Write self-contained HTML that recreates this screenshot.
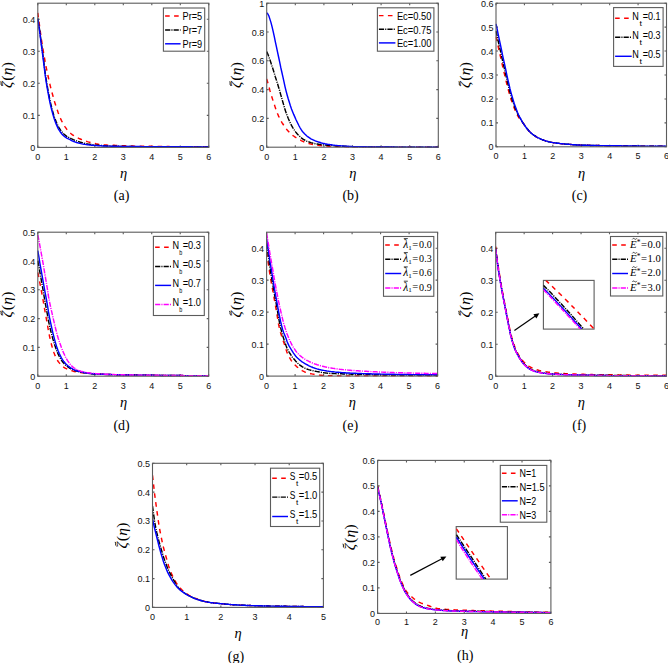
<!DOCTYPE html>
<html><head><meta charset="utf-8"><title>figure</title><style>
html,body{margin:0;padding:0;background:#fff;}
svg{display:block;}
text{font-family:"Liberation Sans",sans-serif;}
.tk{font-size:9px;fill:#111;}
.lg{font-size:10.4px;fill:#000;}
.lgs{font-family:"Liberation Serif",serif;font-size:10px;fill:#000;}
.eta{font-family:"Liberation Serif",serif;font-style:italic;font-size:14.5px;fill:#000;}
.cap{font-family:"Liberation Serif",serif;font-size:14px;fill:#000;}
.yl{font-family:"Liberation Serif",serif;fill:#000;}
</style></head>
<body><svg width="668" height="663" viewBox="0 0 668 663">
<rect width="668" height="663" fill="#fff"/>
<g>
<clipPath id="c0"><rect x="37.3" y="2.2" width="172" height="145.7"/></clipPath>
<path d="M37.8 147.4 v-2.0 M37.8 3.2 v2.0 M66.3 147.4 v-2.0 M66.3 3.2 v2.0 M94.8 147.4 v-2.0 M94.8 3.2 v2.0 M123.3 147.4 v-2.0 M123.3 3.2 v2.0 M151.8 147.4 v-2.0 M151.8 3.2 v2.0 M180.3 147.4 v-2.0 M180.3 3.2 v2.0 M208.8 147.4 v-2.0 M208.8 3.2 v2.0 M37.8 147.4 h2.0 M208.8 147.4 h-2.0 M37.8 115.36 h2.0 M208.8 115.36 h-2.0 M37.8 83.31 h2.0 M208.8 83.31 h-2.0 M37.8 51.27 h2.0 M208.8 51.27 h-2.0 M37.8 19.22 h2.0 M208.8 19.22 h-2.0" stroke="#5c5c5c" stroke-width="1.1" fill="none"/>
<text x="37.8" y="159.8" class="tk" text-anchor="middle">0</text>
<text x="66.3" y="159.8" class="tk" text-anchor="middle">1</text>
<text x="94.8" y="159.8" class="tk" text-anchor="middle">2</text>
<text x="123.3" y="159.8" class="tk" text-anchor="middle">3</text>
<text x="151.8" y="159.8" class="tk" text-anchor="middle">4</text>
<text x="180.3" y="159.8" class="tk" text-anchor="middle">5</text>
<text x="208.8" y="159.8" class="tk" text-anchor="middle">6</text>
<text x="35.3" y="150.9" class="tk" text-anchor="end">0</text>
<text x="35.3" y="118.86" class="tk" text-anchor="end">0.1</text>
<text x="35.3" y="86.81" class="tk" text-anchor="end">0.2</text>
<text x="35.3" y="54.77" class="tk" text-anchor="end">0.3</text>
<text x="35.3" y="22.72" class="tk" text-anchor="end">0.4</text>
<path d="M37.8 12.8 38.9 21.2 40 29.2 41 36.7 42.1 43.8 43.2 50.5 44.3 56.8 45.3 62.7 46.4 68.3 47.5 73.6 48.6 78.5 49.6 83.2 50.7 87.6 51.8 91.8 52.9 95.8 53.9 99.6 55 103.2 56.1 106.6 57.2 109.8 58.2 112.8 59.3 115.7 60.4 118.2 61.5 120.6 62.5 122.6 63.6 124.6 64.7 126.3 65.8 127.9 66.8 129.4 67.9 130.7 69 131.8 70.1 132.8 71.1 133.7 72.2 134.6 73.3 135.3 74.4 136 75.4 136.7 76.5 137.3 77.6 137.8 78.7 138.3 79.7 138.8 80.8 139.2 81.9 139.7 83 140.1 84 140.5 85.1 140.9 86.2 141.2 87.3 141.6 88.3 141.9 89.4 142.2 90.5 142.5 91.6 142.8 92.6 143 93.7 143.3 94.8 143.5 95.9 143.8 97 144 98 144.2 99.1 144.4 100.2 144.5 101.3 144.6 102.3 144.7 103.4 144.8 104.5 144.9 105.6 144.9 106.6 145 107.7 145.1 108.8 145.1 109.9 145.2 110.9 145.2 112 145.3 113.1 145.3 114.2 145.3 115.2 145.4 116.3 145.4 117.4 145.5 118.5 145.5 119.5 145.6 120.6 145.6 121.7 145.6 122.8 145.7 123.8 145.7 124.9 145.8 126 145.8 127.1 145.8 128.1 145.9 129.2 145.9 130.3 145.9 131.4 146 132.4 146 133.5 146 134.6 146.1 135.7 146.1 136.7 146.1 137.8 146.1 138.9 146.1 140 146.2 141 146.2 142.1 146.2 143.2 146.2 144.3 146.2 145.3 146.2 146.4 146.3 147.5 146.3 148.6 146.3 149.6 146.3 150.7 146.3 151.8 146.3 152.9 146.4 154 146.4 155 146.4 156.1 146.4 157.2 146.4 158.3 146.4 159.3 146.4 160.4 146.4 161.5 146.5 162.6 146.5 163.6 146.5 164.7 146.5 165.8 146.5 166.9 146.5 167.9 146.5 169 146.5 170.1 146.6 171.2 146.6 172.2 146.6 173.3 146.6 174.4 146.6 175.5 146.6 176.5 146.6 177.6 146.6 178.7 146.6 179.8 146.6 180.8 146.7 181.9 146.7 183 146.7 184.1 146.7 185.1 146.7 186.2 146.7 187.3 146.7 188.4 146.7 189.4 146.7 190.5 146.7 191.6 146.7 192.7 146.7 193.7 146.7 194.8 146.7 195.9 146.7 197 146.7 198 146.7 199.1 146.7 200.2 146.7 201.3 146.8 202.3 146.8 203.4 146.8 204.5 146.8 205.6 146.8 206.6 146.8 207.7 146.8 208.8 146.8" fill="none" stroke="#ff0000" stroke-width="1.45" stroke-dasharray="4.6 4.4" clip-path="url(#c0)"/>
<path d="M37.8 18.3 38.9 25.3 40 32.9 41 40.8 42.1 48.8 43.2 57.3 44.3 65.8 45.3 73.8 46.4 80.9 47.5 87.3 48.6 93.3 49.6 98.7 50.7 103.6 51.8 108.1 52.9 112.1 53.9 115.6 55 118.8 56.1 121.6 57.2 124.1 58.2 126.3 59.3 128.2 60.4 129.9 61.5 131.3 62.5 132.6 63.6 133.8 64.7 134.7 65.8 135.6 66.8 136.3 67.9 137 69 137.6 70.1 138.1 71.1 138.7 72.2 139.2 73.3 139.7 74.4 140.1 75.4 140.5 76.5 140.9 77.6 141.3 78.7 141.6 79.7 142 80.8 142.3 81.9 142.6 83 142.9 84 143.2 85.1 143.4 86.2 143.7 87.3 143.9 88.3 144.1 89.4 144.2 90.5 144.4 91.6 144.6 92.6 144.7 93.7 144.8 94.8 145 95.9 145.1 97 145.2 98 145.3 99.1 145.4 100.2 145.5 101.3 145.5 102.3 145.6 103.4 145.7 104.5 145.7 105.6 145.8 106.6 145.9 107.7 145.9 108.8 146 109.9 146 110.9 146.1 112 146.1 113.1 146.2 114.2 146.2 115.2 146.2 116.3 146.3 117.4 146.3 118.5 146.3 119.5 146.4 120.6 146.4 121.7 146.4 122.8 146.4 123.8 146.4 124.9 146.5 126 146.5 127.1 146.5 128.1 146.5 129.2 146.5 130.3 146.5 131.4 146.5 132.4 146.5 133.5 146.6 134.6 146.6 135.7 146.6 136.7 146.6 137.8 146.6 138.9 146.6 140 146.6 141 146.6 142.1 146.6 143.2 146.6 144.3 146.7 145.3 146.7 146.4 146.7 147.5 146.7 148.6 146.7 149.6 146.7 150.7 146.7 151.8 146.7 152.9 146.7 154 146.7 155 146.7 156.1 146.7 157.2 146.8 158.3 146.8 159.3 146.8 160.4 146.8 161.5 146.8 162.6 146.8 163.6 146.8 164.7 146.8 165.8 146.8 166.9 146.8 167.9 146.8 169 146.8 170.1 146.8 171.2 146.8 172.2 146.8 173.3 146.8 174.4 146.8 175.5 146.9 176.5 146.9 177.6 146.9 178.7 146.9 179.8 146.9 180.8 146.9 181.9 146.9 183 146.9 184.1 146.9 185.1 146.9 186.2 146.9 187.3 146.9 188.4 146.9 189.4 146.9 190.5 146.9 191.6 146.9 192.7 146.9 193.7 146.9 194.8 146.9 195.9 146.9 197 146.9 198 146.9 199.1 146.9 200.2 146.9 201.3 146.9 202.3 146.9 203.4 146.9 204.5 146.9 205.6 146.9 206.6 146.9 207.7 146.9 208.8 146.9" fill="none" stroke="#000000" stroke-width="1.45" stroke-dasharray="5.2 1.1 1.1 1.1" clip-path="url(#c0)"/>
<path d="M37.8 19.2 38.9 26.4 40 34.2 41 42.3 42.1 50.5 43.2 59.1 44.3 67.8 45.3 75.9 46.4 83.1 47.5 89.6 48.6 95.5 49.6 100.9 50.7 105.8 51.8 110.3 52.9 114.3 53.9 117.9 55 121 56.1 123.9 57.2 126.4 58.2 128.6 59.3 130.4 60.4 132 61.5 133.5 62.5 134.7 63.6 135.7 64.7 136.6 65.8 137.4 66.8 138.1 67.9 138.7 69 139.2 70.1 139.7 71.1 140.3 72.2 140.8 73.3 141.3 74.4 141.7 75.4 142.1 76.5 142.5 77.6 142.8 78.7 143.1 79.7 143.4 80.8 143.6 81.9 143.9 83 144.1 84 144.3 85.1 144.4 86.2 144.6 87.3 144.7 88.3 144.9 89.4 145 90.5 145.1 91.6 145.2 92.6 145.3 93.7 145.4 94.8 145.5 95.9 145.5 97 145.6 98 145.7 99.1 145.7 100.2 145.8 101.3 145.8 102.3 145.9 103.4 145.9 104.5 146 105.6 146 106.6 146 107.7 146.1 108.8 146.1 109.9 146.1 110.9 146.2 112 146.2 113.1 146.2 114.2 146.2 115.2 146.3 116.3 146.3 117.4 146.3 118.5 146.3 119.5 146.3 120.6 146.4 121.7 146.4 122.8 146.4 123.8 146.4 124.9 146.4 126 146.4 127.1 146.4 128.1 146.4 129.2 146.5 130.3 146.5 131.4 146.5 132.4 146.5 133.5 146.5 134.6 146.5 135.7 146.5 136.7 146.5 137.8 146.5 138.9 146.5 140 146.5 141 146.5 142.1 146.6 143.2 146.6 144.3 146.6 145.3 146.6 146.4 146.6 147.5 146.6 148.6 146.6 149.6 146.6 150.7 146.6 151.8 146.6 152.9 146.6 154 146.6 155 146.6 156.1 146.6 157.2 146.7 158.3 146.7 159.3 146.7 160.4 146.7 161.5 146.7 162.6 146.7 163.6 146.7 164.7 146.7 165.8 146.7 166.9 146.7 167.9 146.7 169 146.7 170.1 146.7 171.2 146.7 172.2 146.7 173.3 146.8 174.4 146.8 175.5 146.8 176.5 146.8 177.6 146.8 178.7 146.8 179.8 146.8 180.8 146.8 181.9 146.8 183 146.8 184.1 146.8 185.1 146.8 186.2 146.8 187.3 146.8 188.4 146.8 189.4 146.8 190.5 146.8 191.6 146.9 192.7 146.9 193.7 146.9 194.8 146.9 195.9 146.9 197 146.9 198 146.9 199.1 146.9 200.2 146.9 201.3 146.9 202.3 146.9 203.4 146.9 204.5 146.9 205.6 146.9 206.6 146.9 207.7 146.9 208.8 146.9" fill="none" stroke="#0000ff" stroke-width="1.45" clip-path="url(#c0)"/>
<rect x="37.8" y="3.2" width="171" height="144.2" fill="none" stroke="#5c5c5c" stroke-width="1.1"/>
<rect x="163.4" y="8" width="41.3" height="43.2" fill="#fff" stroke="#5c5c5c" stroke-width="1.1"/>
<path d="M165.1 15.9 H180.6" stroke="#ff0000" stroke-width="1.45" stroke-dasharray="4.6 4.4"/>
<text x="182.6" y="19.7" class="lg" textLength="19.6" lengthAdjust="spacingAndGlyphs">Pr=5</text>
<path d="M165.1 29.9 H180.6" stroke="#000000" stroke-width="1.45" stroke-dasharray="5.2 1.1 1.1 1.1"/>
<text x="182.6" y="34" class="lg" textLength="19.6" lengthAdjust="spacingAndGlyphs">Pr=7</text>
<path d="M165.1 43.8 H180.6" stroke="#0000ff" stroke-width="1.45"/>
<text x="182.6" y="48" class="lg" textLength="19.6" lengthAdjust="spacingAndGlyphs">Pr=9</text>
<g transform="translate(12.2 75.1) rotate(-90)"><text x="0" y="0" class="yl" text-anchor="middle" style="font-size:15.5px"><tspan font-style="italic">&#950;</tspan><tspan dx="1">(</tspan><tspan font-style="italic" dx="0.3">&#951;</tspan><tspan dx="0.3">)</tspan></text><path d="M-10.6 -10.2 C-9.6 -12.2 -8.2 -10.2 -6.4 -11.6" fill="none" stroke="#000" stroke-width="0.9"/></g>
<text x="123.6" y="177.7" class="eta" text-anchor="middle">&#951;</text>
<text x="121.6" y="200" class="cap" text-anchor="middle">(a)</text>
</g>
<g>
<clipPath id="c1"><rect x="266.2" y="2.2" width="172.6" height="145.5"/></clipPath>
<path d="M266.7 147.2 v-2.0 M266.7 3.2 v2.0 M295.3 147.2 v-2.0 M295.3 3.2 v2.0 M323.9 147.2 v-2.0 M323.9 3.2 v2.0 M352.5 147.2 v-2.0 M352.5 3.2 v2.0 M381.1 147.2 v-2.0 M381.1 3.2 v2.0 M409.7 147.2 v-2.0 M409.7 3.2 v2.0 M438.3 147.2 v-2.0 M438.3 3.2 v2.0 M266.7 147.2 h2.0 M438.3 147.2 h-2.0 M266.7 118.4 h2.0 M438.3 118.4 h-2.0 M266.7 89.6 h2.0 M438.3 89.6 h-2.0 M266.7 60.8 h2.0 M438.3 60.8 h-2.0 M266.7 32 h2.0 M438.3 32 h-2.0 M266.7 3.2 h2.0 M438.3 3.2 h-2.0" stroke="#5c5c5c" stroke-width="1.1" fill="none"/>
<text x="266.7" y="159.6" class="tk" text-anchor="middle">0</text>
<text x="295.3" y="159.6" class="tk" text-anchor="middle">1</text>
<text x="323.9" y="159.6" class="tk" text-anchor="middle">2</text>
<text x="352.5" y="159.6" class="tk" text-anchor="middle">3</text>
<text x="381.1" y="159.6" class="tk" text-anchor="middle">4</text>
<text x="409.7" y="159.6" class="tk" text-anchor="middle">5</text>
<text x="438.3" y="159.6" class="tk" text-anchor="middle">6</text>
<text x="264.2" y="150.7" class="tk" text-anchor="end">0</text>
<text x="264.2" y="121.9" class="tk" text-anchor="end">0.2</text>
<text x="264.2" y="93.1" class="tk" text-anchor="end">0.4</text>
<text x="264.2" y="64.3" class="tk" text-anchor="end">0.6</text>
<text x="264.2" y="35.5" class="tk" text-anchor="end">0.8</text>
<text x="264.2" y="6.7" class="tk" text-anchor="end">1</text>
<path d="M266.7 78.9 267.8 82.8 268.9 86.6 269.9 90.4 271 94.2 272.1 97.8 273.2 101.2 274.3 104.4 275.3 107.6 276.4 110.7 277.5 113.6 278.6 116.1 279.7 118.3 280.7 120.4 281.8 122.3 282.9 124 284 125.7 285 127.2 286.1 128.6 287.2 130 288.3 131.2 289.4 132.4 290.4 133.4 291.5 134.4 292.6 135.3 293.7 136 294.8 136.8 295.8 137.5 296.9 138.1 298 138.8 299.1 139.4 300.2 140 301.2 140.6 302.3 141.1 303.4 141.6 304.5 142.1 305.6 142.5 306.6 142.8 307.7 143.2 308.8 143.5 309.9 143.8 310.9 144 312 144.3 313.1 144.5 314.2 144.7 315.3 144.9 316.3 145 317.4 145.2 318.5 145.3 319.6 145.5 320.7 145.6 321.7 145.7 322.8 145.8 323.9 145.9 325 146 326.1 146 327.1 146.1 328.2 146.2 329.3 146.2 330.4 146.3 331.5 146.4 332.5 146.4 333.6 146.5 334.7 146.5 335.8 146.5 336.9 146.6 337.9 146.6 339 146.6 340.1 146.7 341.2 146.7 342.2 146.7 343.3 146.8 344.4 146.8 345.5 146.8 346.6 146.8 347.6 146.9 348.7 146.9 349.8 146.9 350.9 146.9 352 146.9 353 146.9 354.1 147 355.2 147 356.3 147 357.4 147 358.4 147 359.5 147 360.6 147 361.7 147 362.8 147 363.8 147 364.9 147 366 147 367.1 147 368.1 147 369.2 147 370.3 147 371.4 147 372.5 147 373.5 147.1 374.6 147.1 375.7 147.1 376.8 147.1 377.9 147.1 378.9 147.1 380 147.1 381.1 147.1 382.2 147.1 383.3 147.1 384.3 147.1 385.4 147.1 386.5 147.1 387.6 147.1 388.7 147.1 389.7 147.1 390.8 147.1 391.9 147.1 393 147.1 394.1 147.1 395.1 147.1 396.2 147.1 397.3 147.1 398.4 147.1 399.4 147.1 400.5 147.1 401.6 147.1 402.7 147.1 403.8 147.1 404.8 147.1 405.9 147.1 407 147.1 408.1 147.1 409.2 147.1 410.2 147.2 411.3 147.2 412.4 147.2 413.5 147.2 414.6 147.2 415.6 147.2 416.7 147.2 417.8 147.2 418.9 147.2 420 147.2 421 147.2 422.1 147.2 423.2 147.2 424.3 147.2 425.3 147.2 426.4 147.2 427.5 147.2 428.6 147.2 429.7 147.2 430.7 147.2 431.8 147.2 432.9 147.2 434 147.2 435.1 147.2 436.1 147.2 437.2 147.2 438.3 147.2" fill="none" stroke="#ff0000" stroke-width="1.45" stroke-dasharray="4.6 4.4" clip-path="url(#c1)"/>
<path d="M266.7 51.6 267.8 54.1 268.9 56.8 269.9 59.8 271 63.1 272.1 66.4 273.2 69.8 274.3 73.3 275.3 76.7 276.4 80.1 277.5 83.6 278.6 87.2 279.7 90.9 280.7 94.6 281.8 98.3 282.9 102.2 284 106 285 109.6 286.1 112.8 287.2 115.8 288.3 118.5 289.4 121 290.4 123.3 291.5 125.4 292.6 127.3 293.7 129.1 294.8 130.7 295.8 132.1 296.9 133.5 298 134.7 299.1 135.8 300.2 136.8 301.2 137.8 302.3 138.6 303.4 139.4 304.5 140 305.6 140.6 306.6 141.1 307.7 141.5 308.8 141.9 309.9 142.3 310.9 142.6 312 142.9 313.1 143.2 314.2 143.4 315.3 143.7 316.3 143.9 317.4 144 318.5 144.2 319.6 144.4 320.7 144.5 321.7 144.7 322.8 144.8 323.9 144.9 325 145 326.1 145.1 327.1 145.2 328.2 145.3 329.3 145.4 330.4 145.5 331.5 145.5 332.5 145.6 333.6 145.7 334.7 145.8 335.8 145.8 336.9 145.9 337.9 145.9 339 146 340.1 146.1 341.2 146.1 342.2 146.2 343.3 146.2 344.4 146.3 345.5 146.3 346.6 146.4 347.6 146.4 348.7 146.5 349.8 146.5 350.9 146.6 352 146.6 353 146.7 354.1 146.7 355.2 146.7 356.3 146.7 357.4 146.8 358.4 146.8 359.5 146.8 360.6 146.8 361.7 146.8 362.8 146.8 363.8 146.8 364.9 146.8 366 146.9 367.1 146.9 368.1 146.9 369.2 146.9 370.3 146.9 371.4 146.9 372.5 146.9 373.5 146.9 374.6 146.9 375.7 146.9 376.8 146.9 377.9 147 378.9 147 380 147 381.1 147 382.2 147 383.3 147 384.3 147 385.4 147 386.5 147 387.6 147 388.7 147 389.7 147 390.8 147 391.9 147 393 147 394.1 147.1 395.1 147.1 396.2 147.1 397.3 147.1 398.4 147.1 399.4 147.1 400.5 147.1 401.6 147.1 402.7 147.1 403.8 147.1 404.8 147.1 405.9 147.1 407 147.1 408.1 147.1 409.2 147.1 410.2 147.1 411.3 147.1 412.4 147.1 413.5 147.1 414.6 147.1 415.6 147.1 416.7 147.1 417.8 147.1 418.9 147.1 420 147.1 421 147.1 422.1 147.1 423.2 147.1 424.3 147.1 425.3 147.1 426.4 147.1 427.5 147.2 428.6 147.2 429.7 147.2 430.7 147.2 431.8 147.2 432.9 147.2 434 147.2 435.1 147.2 436.1 147.2 437.2 147.2 438.3 147.2" fill="none" stroke="#000000" stroke-width="1.45" stroke-dasharray="5.2 1.1 1.1 1.1" clip-path="url(#c1)"/>
<path d="M266.7 12.8 267.8 13.9 268.9 16 269.9 19.1 271 22.6 272.1 26.9 273.2 31.7 274.3 36.6 275.3 41.6 276.4 46.7 277.5 51.8 278.6 57 279.7 62.1 280.7 67.2 281.8 72 282.9 76.9 284 81.8 285 86.6 286.1 91.1 287.2 95.2 288.3 99 289.4 102.5 290.4 105.8 291.5 108.9 292.6 111.7 293.7 114.4 294.8 116.9 295.8 119.2 296.9 121.5 298 123.8 299.1 126 300.2 128 301.2 129.7 302.3 131.2 303.4 132.6 304.5 133.8 305.6 134.8 306.6 135.8 307.7 136.7 308.8 137.4 309.9 138.1 310.9 138.8 312 139.3 313.1 139.8 314.2 140.3 315.3 140.8 316.3 141.2 317.4 141.6 318.5 142 319.6 142.3 320.7 142.7 321.7 143 322.8 143.3 323.9 143.5 325 143.8 326.1 144 327.1 144.2 328.2 144.4 329.3 144.5 330.4 144.7 331.5 144.8 332.5 145 333.6 145.1 334.7 145.3 335.8 145.4 336.9 145.5 337.9 145.6 339 145.7 340.1 145.8 341.2 145.9 342.2 146 343.3 146 344.4 146.1 345.5 146.2 346.6 146.3 347.6 146.3 348.7 146.4 349.8 146.4 350.9 146.5 352 146.5 353 146.6 354.1 146.6 355.2 146.6 356.3 146.7 357.4 146.7 358.4 146.7 359.5 146.7 360.6 146.7 361.7 146.8 362.8 146.8 363.8 146.8 364.9 146.8 366 146.8 367.1 146.9 368.1 146.9 369.2 146.9 370.3 146.9 371.4 146.9 372.5 146.9 373.5 146.9 374.6 146.9 375.7 146.9 376.8 147 377.9 147 378.9 147 380 147 381.1 147 382.2 147 383.3 147 384.3 147 385.4 147 386.5 147 387.6 147 388.7 147 389.7 147 390.8 147 391.9 147 393 147 394.1 147 395.1 147.1 396.2 147.1 397.3 147.1 398.4 147.1 399.4 147.1 400.5 147.1 401.6 147.1 402.7 147.1 403.8 147.1 404.8 147.1 405.9 147.1 407 147.1 408.1 147.1 409.2 147.1 410.2 147.1 411.3 147.1 412.4 147.1 413.5 147.1 414.6 147.1 415.6 147.1 416.7 147.1 417.8 147.1 418.9 147.1 420 147.1 421 147.1 422.1 147.1 423.2 147.1 424.3 147.1 425.3 147.1 426.4 147.1 427.5 147.1 428.6 147.2 429.7 147.2 430.7 147.2 431.8 147.2 432.9 147.2 434 147.2 435.1 147.2 436.1 147.2 437.2 147.2 438.3 147.2" fill="none" stroke="#0000ff" stroke-width="1.45" clip-path="url(#c1)"/>
<rect x="266.7" y="3.2" width="171.6" height="144" fill="none" stroke="#5c5c5c" stroke-width="1.1"/>
<rect x="377.4" y="7.8" width="56.5" height="43.4" fill="#fff" stroke="#5c5c5c" stroke-width="1.1"/>
<path d="M378.9 15.6 H395.4" stroke="#ff0000" stroke-width="1.45" stroke-dasharray="4.6 4.4"/>
<text x="396.9" y="20" class="lg" textLength="34.5" lengthAdjust="spacingAndGlyphs">Ec=0.50</text>
<path d="M378.9 29.3 H395.4" stroke="#000000" stroke-width="1.45" stroke-dasharray="5.2 1.1 1.1 1.1"/>
<text x="396.9" y="33.6" class="lg" textLength="34.5" lengthAdjust="spacingAndGlyphs">Ec=0.75</text>
<path d="M378.9 42.9 H395.4" stroke="#0000ff" stroke-width="1.45"/>
<text x="396.9" y="47.3" class="lg" textLength="34.5" lengthAdjust="spacingAndGlyphs">Ec=1.00</text>
<g transform="translate(241.2 75.1) rotate(-90)"><text x="0" y="0" class="yl" text-anchor="middle" style="font-size:15.5px"><tspan font-style="italic">&#950;</tspan><tspan dx="1">(</tspan><tspan font-style="italic" dx="0.3">&#951;</tspan><tspan dx="0.3">)</tspan></text><path d="M-10.6 -10.2 C-9.6 -12.2 -8.2 -10.2 -6.4 -11.6" fill="none" stroke="#000" stroke-width="0.9"/></g>
<text x="352.8" y="177.7" class="eta" text-anchor="middle">&#951;</text>
<text x="350.6" y="200" class="cap" text-anchor="middle">(b)</text>
</g>
<g>
<clipPath id="c2"><rect x="495.5" y="2.2" width="171.5" height="145.1"/></clipPath>
<path d="M496 146.8 v-2.0 M496 3.2 v2.0 M524.42 146.8 v-2.0 M524.42 3.2 v2.0 M552.83 146.8 v-2.0 M552.83 3.2 v2.0 M581.25 146.8 v-2.0 M581.25 3.2 v2.0 M609.67 146.8 v-2.0 M609.67 3.2 v2.0 M638.08 146.8 v-2.0 M638.08 3.2 v2.0 M666.5 146.8 v-2.0 M666.5 3.2 v2.0 M496 146.8 h2.0 M666.5 146.8 h-2.0 M496 122.87 h2.0 M666.5 122.87 h-2.0 M496 98.93 h2.0 M666.5 98.93 h-2.0 M496 75 h2.0 M666.5 75 h-2.0 M496 51.07 h2.0 M666.5 51.07 h-2.0 M496 27.13 h2.0 M666.5 27.13 h-2.0 M496 3.2 h2.0 M666.5 3.2 h-2.0" stroke="#5c5c5c" stroke-width="1.1" fill="none"/>
<text x="496" y="159.2" class="tk" text-anchor="middle">0</text>
<text x="524.42" y="159.2" class="tk" text-anchor="middle">1</text>
<text x="552.83" y="159.2" class="tk" text-anchor="middle">2</text>
<text x="581.25" y="159.2" class="tk" text-anchor="middle">3</text>
<text x="609.67" y="159.2" class="tk" text-anchor="middle">4</text>
<text x="638.08" y="159.2" class="tk" text-anchor="middle">5</text>
<text x="666.5" y="159.2" class="tk" text-anchor="middle">6</text>
<text x="493.5" y="150.3" class="tk" text-anchor="end">0</text>
<text x="493.5" y="126.37" class="tk" text-anchor="end">0.1</text>
<text x="493.5" y="102.43" class="tk" text-anchor="end">0.2</text>
<text x="493.5" y="78.5" class="tk" text-anchor="end">0.3</text>
<text x="493.5" y="54.57" class="tk" text-anchor="end">0.4</text>
<text x="493.5" y="30.63" class="tk" text-anchor="end">0.5</text>
<text x="493.5" y="6.7" class="tk" text-anchor="end">0.6</text>
<path d="M496 36.7 497.1 41.4 498.1 46.2 499.2 51.1 500.3 55.9 501.4 60.6 502.4 65.4 503.5 70.1 504.6 74.7 505.7 79.4 506.7 83.7 507.8 88 508.9 92 509.9 95.7 511 99.2 512.1 102.4 513.2 105.3 514.2 108.1 515.3 110.7 516.4 113.1 517.4 115.2 518.5 117 519.6 118.7 520.7 120.2 521.7 121.5 522.8 122.7 523.9 124.3 525 125.8 526 127.3 527.1 128.7 528.2 130 529.2 131.2 530.3 132.3 531.4 133.3 532.5 134.2 533.5 135 534.6 135.7 535.7 136.4 536.7 137.1 537.8 137.7 538.9 138.2 540 138.7 541 139.2 542.1 139.6 543.2 140 544.3 140.4 545.3 140.8 546.4 141.1 547.5 141.4 548.5 141.7 549.6 141.9 550.7 142.2 551.8 142.4 552.8 142.6 553.9 142.7 555 142.9 556.1 143 557.1 143.2 558.2 143.3 559.3 143.4 560.3 143.6 561.4 143.7 562.5 143.8 563.6 143.9 564.6 144 565.7 144.1 566.8 144.2 567.8 144.3 568.9 144.3 570 144.4 571.1 144.5 572.1 144.6 573.2 144.7 574.3 144.7 575.4 144.8 576.4 144.9 577.5 144.9 578.6 145 579.6 145 580.7 145.1 581.8 145.1 582.9 145.2 583.9 145.2 585 145.2 586.1 145.3 587.1 145.3 588.2 145.3 589.3 145.3 590.4 145.4 591.4 145.4 592.5 145.4 593.6 145.4 594.7 145.5 595.7 145.5 596.8 145.5 597.9 145.5 598.9 145.5 600 145.6 601.1 145.6 602.2 145.6 603.2 145.6 604.3 145.6 605.4 145.7 606.4 145.7 607.5 145.7 608.6 145.7 609.7 145.7 610.7 145.7 611.8 145.7 612.9 145.8 614 145.8 615 145.8 616.1 145.8 617.2 145.8 618.2 145.8 619.3 145.8 620.4 145.8 621.5 145.9 622.5 145.9 623.6 145.9 624.7 145.9 625.8 145.9 626.8 145.9 627.9 145.9 629 145.9 630 146 631.1 146 632.2 146 633.3 146 634.3 146 635.4 146 636.5 146 637.5 146 638.6 146 639.7 146 640.8 146.1 641.8 146.1 642.9 146.1 644 146.1 645.1 146.1 646.1 146.1 647.2 146.1 648.3 146.1 649.3 146.1 650.4 146.1 651.5 146.1 652.6 146.1 653.6 146.1 654.7 146.2 655.8 146.2 656.8 146.2 657.9 146.2 659 146.2 660.1 146.2 661.1 146.2 662.2 146.2 663.3 146.2 664.4 146.2 665.4 146.2 666.5 146.2" fill="none" stroke="#ff0000" stroke-width="1.45" stroke-dasharray="4.6 4.4" clip-path="url(#c2)"/>
<path d="M496 31 497.1 35.8 498.1 40.6 499.2 45.5 500.3 50.4 501.4 55.2 502.4 59.9 503.5 64.7 504.6 69.4 505.7 74.1 506.7 78.8 507.8 83.4 508.9 87.8 509.9 91.9 511 95.6 512.1 99.2 513.2 102.5 514.2 105.5 515.3 108.4 516.4 111 517.4 113.4 518.5 115.5 519.6 117.5 520.7 119.2 521.7 120.8 522.8 122.6 523.9 124.3 525 125.8 526 127.3 527.1 128.7 528.2 130 529.2 131.2 530.3 132.3 531.4 133.3 532.5 134.2 533.5 135 534.6 135.7 535.7 136.4 536.7 137.1 537.8 137.7 538.9 138.2 540 138.7 541 139.2 542.1 139.6 543.2 140 544.3 140.4 545.3 140.8 546.4 141.1 547.5 141.4 548.5 141.7 549.6 141.9 550.7 142.2 551.8 142.4 552.8 142.6 553.9 142.7 555 142.9 556.1 143 557.1 143.2 558.2 143.3 559.3 143.4 560.3 143.6 561.4 143.7 562.5 143.8 563.6 143.9 564.6 144 565.7 144.1 566.8 144.2 567.8 144.3 568.9 144.3 570 144.4 571.1 144.5 572.1 144.6 573.2 144.7 574.3 144.7 575.4 144.8 576.4 144.9 577.5 144.9 578.6 145 579.6 145 580.7 145.1 581.8 145.1 582.9 145.2 583.9 145.2 585 145.2 586.1 145.3 587.1 145.3 588.2 145.3 589.3 145.3 590.4 145.4 591.4 145.4 592.5 145.4 593.6 145.4 594.7 145.5 595.7 145.5 596.8 145.5 597.9 145.5 598.9 145.5 600 145.6 601.1 145.6 602.2 145.6 603.2 145.6 604.3 145.6 605.4 145.7 606.4 145.7 607.5 145.7 608.6 145.7 609.7 145.7 610.7 145.7 611.8 145.7 612.9 145.8 614 145.8 615 145.8 616.1 145.8 617.2 145.8 618.2 145.8 619.3 145.8 620.4 145.8 621.5 145.9 622.5 145.9 623.6 145.9 624.7 145.9 625.8 145.9 626.8 145.9 627.9 145.9 629 145.9 630 146 631.1 146 632.2 146 633.3 146 634.3 146 635.4 146 636.5 146 637.5 146 638.6 146 639.7 146 640.8 146.1 641.8 146.1 642.9 146.1 644 146.1 645.1 146.1 646.1 146.1 647.2 146.1 648.3 146.1 649.3 146.1 650.4 146.1 651.5 146.1 652.6 146.1 653.6 146.1 654.7 146.2 655.8 146.2 656.8 146.2 657.9 146.2 659 146.2 660.1 146.2 661.1 146.2 662.2 146.2 663.3 146.2 664.4 146.2 665.4 146.2 666.5 146.2" fill="none" stroke="#000000" stroke-width="1.45" stroke-dasharray="5.2 1.1 1.1 1.1" clip-path="url(#c2)"/>
<path d="M496 23.8 497.1 28.8 498.1 34 499.2 39.1 500.3 44.2 501.4 49.3 502.4 54.4 503.5 59.4 504.6 64.4 505.7 69.3 506.7 74.3 507.8 79.3 508.9 84 509.9 88.5 511 92.6 512.1 96.5 513.2 100.1 514.2 103.5 515.3 106.6 516.4 109.6 517.4 112.2 518.5 114.7 519.6 116.9 520.7 118.9 521.7 120.8 522.8 122.6 523.9 124.3 525 125.8 526 127.3 527.1 128.7 528.2 130 529.2 131.2 530.3 132.3 531.4 133.3 532.5 134.2 533.5 135 534.6 135.7 535.7 136.4 536.7 137.1 537.8 137.7 538.9 138.2 540 138.7 541 139.2 542.1 139.6 543.2 140 544.3 140.4 545.3 140.8 546.4 141.1 547.5 141.4 548.5 141.7 549.6 141.9 550.7 142.2 551.8 142.4 552.8 142.6 553.9 142.7 555 142.9 556.1 143 557.1 143.2 558.2 143.3 559.3 143.4 560.3 143.6 561.4 143.7 562.5 143.8 563.6 143.9 564.6 144 565.7 144.1 566.8 144.2 567.8 144.3 568.9 144.3 570 144.4 571.1 144.5 572.1 144.6 573.2 144.7 574.3 144.7 575.4 144.8 576.4 144.9 577.5 144.9 578.6 145 579.6 145 580.7 145.1 581.8 145.1 582.9 145.2 583.9 145.2 585 145.2 586.1 145.3 587.1 145.3 588.2 145.3 589.3 145.3 590.4 145.4 591.4 145.4 592.5 145.4 593.6 145.4 594.7 145.5 595.7 145.5 596.8 145.5 597.9 145.5 598.9 145.5 600 145.6 601.1 145.6 602.2 145.6 603.2 145.6 604.3 145.6 605.4 145.7 606.4 145.7 607.5 145.7 608.6 145.7 609.7 145.7 610.7 145.7 611.8 145.7 612.9 145.8 614 145.8 615 145.8 616.1 145.8 617.2 145.8 618.2 145.8 619.3 145.8 620.4 145.8 621.5 145.9 622.5 145.9 623.6 145.9 624.7 145.9 625.8 145.9 626.8 145.9 627.9 145.9 629 145.9 630 146 631.1 146 632.2 146 633.3 146 634.3 146 635.4 146 636.5 146 637.5 146 638.6 146 639.7 146 640.8 146.1 641.8 146.1 642.9 146.1 644 146.1 645.1 146.1 646.1 146.1 647.2 146.1 648.3 146.1 649.3 146.1 650.4 146.1 651.5 146.1 652.6 146.1 653.6 146.1 654.7 146.2 655.8 146.2 656.8 146.2 657.9 146.2 659 146.2 660.1 146.2 661.1 146.2 662.2 146.2 663.3 146.2 664.4 146.2 665.4 146.2 666.5 146.2" fill="none" stroke="#0000ff" stroke-width="1.45" clip-path="url(#c2)"/>
<rect x="496" y="3.2" width="170.5" height="143.6" fill="none" stroke="#5c5c5c" stroke-width="1.1"/>
<rect x="613.6" y="7.6" width="49.5" height="58.8" fill="#fff" stroke="#5c5c5c" stroke-width="1.1"/>
<path d="M615.1 18.2 H631.7" stroke="#ff0000" stroke-width="1.45" stroke-dasharray="4.6 4.4"/>
<text x="632.2" y="20.2" class="lg" textLength="6.6" lengthAdjust="spacingAndGlyphs">N</text><text x="639.6" y="25.9" class="lg" style="font-size:8px" textLength="2.5" lengthAdjust="spacingAndGlyphs">t</text><text x="642.7" y="20.2" class="lg" textLength="17.8" lengthAdjust="spacingAndGlyphs">=0.1</text>
<path d="M615.1 37.3 H631.7" stroke="#000000" stroke-width="1.45" stroke-dasharray="5.2 1.1 1.1 1.1"/>
<text x="632.2" y="39.1" class="lg" textLength="6.6" lengthAdjust="spacingAndGlyphs">N</text><text x="639.6" y="44.8" class="lg" style="font-size:8px" textLength="2.5" lengthAdjust="spacingAndGlyphs">t</text><text x="642.7" y="39.1" class="lg" textLength="17.8" lengthAdjust="spacingAndGlyphs">=0.3</text>
<path d="M615.1 56.3 H631.7" stroke="#0000ff" stroke-width="1.45"/>
<text x="632.2" y="58.1" class="lg" textLength="6.6" lengthAdjust="spacingAndGlyphs">N</text><text x="639.6" y="63.8" class="lg" style="font-size:8px" textLength="2.5" lengthAdjust="spacingAndGlyphs">t</text><text x="642.7" y="58.1" class="lg" textLength="17.8" lengthAdjust="spacingAndGlyphs">=0.5</text>
<g transform="translate(470.4 75.1) rotate(-90)"><text x="0" y="0" class="yl" text-anchor="middle" style="font-size:15.5px"><tspan font-style="italic">&#950;</tspan><tspan dx="1">(</tspan><tspan font-style="italic" dx="0.3">&#951;</tspan><tspan dx="0.3">)</tspan></text><path d="M-10.6 -10.2 C-9.6 -12.2 -8.2 -10.2 -6.4 -11.6" fill="none" stroke="#000" stroke-width="0.9"/></g>
<text x="581.5" y="177.7" class="eta" text-anchor="middle">&#951;</text>
<text x="579.5" y="200" class="cap" text-anchor="middle">(c)</text>
</g>
<g>
<clipPath id="c3"><rect x="37.3" y="231.2" width="171.9" height="145.5"/></clipPath>
<path d="M37.8 376.2 v-2.0 M37.8 232.2 v2.0 M66.28 376.2 v-2.0 M66.28 232.2 v2.0 M94.77 376.2 v-2.0 M94.77 232.2 v2.0 M123.25 376.2 v-2.0 M123.25 232.2 v2.0 M151.73 376.2 v-2.0 M151.73 232.2 v2.0 M180.22 376.2 v-2.0 M180.22 232.2 v2.0 M208.7 376.2 v-2.0 M208.7 232.2 v2.0 M37.8 376.2 h2.0 M208.7 376.2 h-2.0 M37.8 347.4 h2.0 M208.7 347.4 h-2.0 M37.8 318.6 h2.0 M208.7 318.6 h-2.0 M37.8 289.8 h2.0 M208.7 289.8 h-2.0 M37.8 261 h2.0 M208.7 261 h-2.0 M37.8 232.2 h2.0 M208.7 232.2 h-2.0" stroke="#5c5c5c" stroke-width="1.1" fill="none"/>
<text x="37.8" y="388.6" class="tk" text-anchor="middle">0</text>
<text x="66.28" y="388.6" class="tk" text-anchor="middle">1</text>
<text x="94.77" y="388.6" class="tk" text-anchor="middle">2</text>
<text x="123.25" y="388.6" class="tk" text-anchor="middle">3</text>
<text x="151.73" y="388.6" class="tk" text-anchor="middle">4</text>
<text x="180.22" y="388.6" class="tk" text-anchor="middle">5</text>
<text x="208.7" y="388.6" class="tk" text-anchor="middle">6</text>
<text x="35.3" y="379.7" class="tk" text-anchor="end">0</text>
<text x="35.3" y="350.9" class="tk" text-anchor="end">0.1</text>
<text x="35.3" y="322.1" class="tk" text-anchor="end">0.2</text>
<text x="35.3" y="293.3" class="tk" text-anchor="end">0.3</text>
<text x="35.3" y="264.5" class="tk" text-anchor="end">0.4</text>
<text x="35.3" y="235.7" class="tk" text-anchor="end">0.5</text>
<path d="M37.8 272.5 38.9 277.6 39.9 283.2 41 289 42.1 294.9 43.2 300.8 44.2 306.8 45.3 313 46.4 319.1 47.5 325.3 48.5 331.2 49.6 336.5 50.7 341.4 51.8 345.7 52.8 349.5 53.9 352.6 55 355.4 56.1 357.8 57.1 359.8 58.2 361.5 59.3 362.9 60.4 364.2 61.4 365.3 62.5 366.2 63.6 367.1 64.7 367.8 65.7 368.4 66.8 368.9 67.9 369.4 69 369.9 70 370.3 71.1 370.6 72.2 370.9 73.3 371.2 74.3 371.5 75.4 371.7 76.5 371.9 77.6 372.1 78.6 372.3 79.7 372.4 80.8 372.6 81.9 372.7 82.9 372.8 84 372.9 85.1 373 86.2 373.1 87.2 373.2 88.3 373.3 89.4 373.4 90.5 373.5 91.5 373.6 92.6 373.6 93.7 373.7 94.8 373.8 95.8 373.8 96.9 373.9 98 374 99.1 374 100.1 374.1 101.2 374.1 102.3 374.2 103.4 374.3 104.4 374.3 105.5 374.3 106.6 374.4 107.7 374.4 108.7 374.5 109.8 374.5 110.9 374.5 112 374.6 113 374.6 114.1 374.6 115.2 374.7 116.3 374.7 117.3 374.7 118.4 374.8 119.5 374.8 120.6 374.8 121.6 374.8 122.7 374.9 123.8 374.9 124.9 374.9 125.9 374.9 127 375 128.1 375 129.2 375 130.2 375 131.3 375.1 132.4 375.1 133.5 375.1 134.5 375.1 135.6 375.1 136.7 375.1 137.8 375.2 138.8 375.2 139.9 375.2 141 375.2 142.1 375.2 143.1 375.2 144.2 375.3 145.3 375.3 146.4 375.3 147.4 375.3 148.5 375.3 149.6 375.3 150.7 375.3 151.7 375.3 152.8 375.3 153.9 375.4 155 375.4 156 375.4 157.1 375.4 158.2 375.4 159.3 375.4 160.3 375.4 161.4 375.4 162.5 375.4 163.6 375.4 164.6 375.4 165.7 375.4 166.8 375.5 167.9 375.5 168.9 375.5 170 375.5 171.1 375.5 172.2 375.5 173.2 375.5 174.3 375.5 175.4 375.5 176.5 375.5 177.5 375.5 178.6 375.5 179.7 375.5 180.8 375.5 181.8 375.5 182.9 375.6 184 375.6 185.1 375.6 186.1 375.6 187.2 375.6 188.3 375.6 189.4 375.6 190.4 375.6 191.5 375.6 192.6 375.6 193.7 375.6 194.7 375.6 195.8 375.6 196.9 375.6 198 375.6 199 375.6 200.1 375.6 201.2 375.6 202.3 375.6 203.3 375.6 204.4 375.6 205.5 375.6 206.6 375.6 207.6 375.6 208.7 375.6" fill="none" stroke="#ff0000" stroke-width="1.45" stroke-dasharray="4.6 4.4" clip-path="url(#c3)"/>
<path d="M37.8 261 38.9 266.5 39.9 272.3 41 278.3 42.1 284.4 43.2 290.7 44.2 297 45.3 303.3 46.4 309.3 47.5 315.1 48.5 320.8 49.6 326.1 50.7 330.8 51.8 334.9 52.8 338.7 53.9 342.3 55 345.8 56.1 349 57.1 351.8 58.2 354.2 59.3 356.5 60.4 358.4 61.4 360.2 62.5 361.7 63.6 363 64.7 364.1 65.7 365.2 66.8 366.1 67.9 366.9 69 367.7 70 368.3 71.1 368.9 72.2 369.4 73.3 369.9 74.3 370.3 75.4 370.7 76.5 371 77.6 371.3 78.6 371.6 79.7 371.9 80.8 372.1 81.9 372.3 82.9 372.5 84 372.7 85.1 372.9 86.2 373.1 87.2 373.2 88.3 373.4 89.4 373.5 90.5 373.6 91.5 373.7 92.6 373.8 93.7 373.9 94.8 373.9 95.8 374 96.9 374 98 374.1 99.1 374.2 100.1 374.2 101.2 374.3 102.3 374.3 103.4 374.3 104.4 374.4 105.5 374.4 106.6 374.4 107.7 374.5 108.7 374.5 109.8 374.5 110.9 374.6 112 374.6 113 374.6 114.1 374.6 115.2 374.7 116.3 374.7 117.3 374.7 118.4 374.7 119.5 374.8 120.6 374.8 121.6 374.8 122.7 374.8 123.8 374.8 124.9 374.9 125.9 374.9 127 374.9 128.1 374.9 129.2 374.9 130.2 374.9 131.3 375 132.4 375 133.5 375 134.5 375 135.6 375 136.7 375 137.8 375.1 138.8 375.1 139.9 375.1 141 375.1 142.1 375.1 143.1 375.1 144.2 375.2 145.3 375.2 146.4 375.2 147.4 375.2 148.5 375.2 149.6 375.2 150.7 375.2 151.7 375.3 152.8 375.3 153.9 375.3 155 375.3 156 375.3 157.1 375.3 158.2 375.3 159.3 375.3 160.3 375.4 161.4 375.4 162.5 375.4 163.6 375.4 164.6 375.4 165.7 375.4 166.8 375.4 167.9 375.4 168.9 375.4 170 375.5 171.1 375.5 172.2 375.5 173.2 375.5 174.3 375.5 175.4 375.5 176.5 375.5 177.5 375.5 178.6 375.5 179.7 375.5 180.8 375.5 181.8 375.5 182.9 375.5 184 375.6 185.1 375.6 186.1 375.6 187.2 375.6 188.3 375.6 189.4 375.6 190.4 375.6 191.5 375.6 192.6 375.6 193.7 375.6 194.7 375.6 195.8 375.6 196.9 375.6 198 375.6 199 375.6 200.1 375.6 201.2 375.6 202.3 375.6 203.3 375.6 204.4 375.6 205.5 375.6 206.6 375.6 207.6 375.6 208.7 375.6" fill="none" stroke="#000000" stroke-width="1.45" stroke-dasharray="5.2 1.1 1.1 1.1" clip-path="url(#c3)"/>
<path d="M37.8 250.6 38.9 256.9 39.9 263.3 41 269.5 42.1 275.7 43.2 281.8 44.2 287.7 45.3 293.6 46.4 299.5 47.5 305.6 48.5 311.9 49.6 317.9 50.7 323.2 51.8 328.1 52.8 332.6 53.9 337 55 341.1 56.1 344.9 57.1 348.1 58.2 351 59.3 353.6 60.4 355.8 61.4 357.8 62.5 359.6 63.6 361.1 64.7 362.5 65.7 363.7 66.8 364.8 67.9 365.8 69 366.6 70 367.4 71.1 368.1 72.2 368.7 73.3 369.3 74.3 369.8 75.4 370.3 76.5 370.7 77.6 371 78.6 371.3 79.7 371.6 80.8 371.9 81.9 372.1 82.9 372.3 84 372.5 85.1 372.7 86.2 372.9 87.2 373.1 88.3 373.2 89.4 373.4 90.5 373.5 91.5 373.6 92.6 373.7 93.7 373.8 94.8 373.8 95.8 373.9 96.9 374 98 374 99.1 374.1 100.1 374.1 101.2 374.2 102.3 374.2 103.4 374.3 104.4 374.3 105.5 374.4 106.6 374.4 107.7 374.4 108.7 374.5 109.8 374.5 110.9 374.5 112 374.6 113 374.6 114.1 374.6 115.2 374.6 116.3 374.7 117.3 374.7 118.4 374.7 119.5 374.8 120.6 374.8 121.6 374.8 122.7 374.8 123.8 374.9 124.9 374.9 125.9 374.9 127 374.9 128.1 375 129.2 375 130.2 375 131.3 375 132.4 375.1 133.5 375.1 134.5 375.1 135.6 375.1 136.7 375.1 137.8 375.2 138.8 375.2 139.9 375.2 141 375.2 142.1 375.2 143.1 375.2 144.2 375.3 145.3 375.3 146.4 375.3 147.4 375.3 148.5 375.3 149.6 375.3 150.7 375.3 151.7 375.3 152.8 375.3 153.9 375.4 155 375.4 156 375.4 157.1 375.4 158.2 375.4 159.3 375.4 160.3 375.4 161.4 375.4 162.5 375.4 163.6 375.4 164.6 375.4 165.7 375.4 166.8 375.5 167.9 375.5 168.9 375.5 170 375.5 171.1 375.5 172.2 375.5 173.2 375.5 174.3 375.5 175.4 375.5 176.5 375.5 177.5 375.5 178.6 375.5 179.7 375.5 180.8 375.5 181.8 375.5 182.9 375.6 184 375.6 185.1 375.6 186.1 375.6 187.2 375.6 188.3 375.6 189.4 375.6 190.4 375.6 191.5 375.6 192.6 375.6 193.7 375.6 194.7 375.6 195.8 375.6 196.9 375.6 198 375.6 199 375.6 200.1 375.6 201.2 375.6 202.3 375.6 203.3 375.6 204.4 375.6 205.5 375.6 206.6 375.6 207.6 375.6 208.7 375.6" fill="none" stroke="#0000ff" stroke-width="1.45" clip-path="url(#c3)"/>
<path d="M37.8 234.8 38.9 240.2 39.9 245.9 41 251.8 42.1 257.9 43.2 264 44.2 270.2 45.3 276.6 46.4 282.9 47.5 289.7 48.5 296.4 49.6 302.2 50.7 307.4 51.8 312.2 52.8 316.8 53.9 321.4 55 326.1 56.1 330.5 57.1 334.5 58.2 338.2 59.3 341.5 60.4 344.6 61.4 347.5 62.5 350.3 63.6 352.9 64.7 355.3 65.7 357.5 66.8 359.3 67.9 361.1 69 362.7 70 364.1 71.1 365.3 72.2 366.4 73.3 367.3 74.3 368 75.4 368.7 76.5 369.3 77.6 369.8 78.6 370.3 79.7 370.8 80.8 371.2 81.9 371.5 82.9 371.8 84 372.1 85.1 372.3 86.2 372.5 87.2 372.7 88.3 372.8 89.4 372.9 90.5 373.1 91.5 373.2 92.6 373.3 93.7 373.4 94.8 373.5 95.8 373.6 96.9 373.6 98 373.7 99.1 373.8 100.1 373.9 101.2 373.9 102.3 374 103.4 374 104.4 374.1 105.5 374.2 106.6 374.2 107.7 374.3 108.7 374.3 109.8 374.3 110.9 374.4 112 374.4 113 374.5 114.1 374.5 115.2 374.6 116.3 374.6 117.3 374.6 118.4 374.7 119.5 374.7 120.6 374.7 121.6 374.8 122.7 374.8 123.8 374.8 124.9 374.9 125.9 374.9 127 374.9 128.1 374.9 129.2 375 130.2 375 131.3 375 132.4 375 133.5 375 134.5 375 135.6 375.1 136.7 375.1 137.8 375.1 138.8 375.1 139.9 375.1 141 375.1 142.1 375.2 143.1 375.2 144.2 375.2 145.3 375.2 146.4 375.2 147.4 375.2 148.5 375.2 149.6 375.2 150.7 375.3 151.7 375.3 152.8 375.3 153.9 375.3 155 375.3 156 375.3 157.1 375.3 158.2 375.3 159.3 375.4 160.3 375.4 161.4 375.4 162.5 375.4 163.6 375.4 164.6 375.4 165.7 375.4 166.8 375.4 167.9 375.4 168.9 375.4 170 375.5 171.1 375.5 172.2 375.5 173.2 375.5 174.3 375.5 175.4 375.5 176.5 375.5 177.5 375.5 178.6 375.5 179.7 375.5 180.8 375.5 181.8 375.5 182.9 375.5 184 375.6 185.1 375.6 186.1 375.6 187.2 375.6 188.3 375.6 189.4 375.6 190.4 375.6 191.5 375.6 192.6 375.6 193.7 375.6 194.7 375.6 195.8 375.6 196.9 375.6 198 375.6 199 375.6 200.1 375.6 201.2 375.6 202.3 375.6 203.3 375.6 204.4 375.6 205.5 375.6 206.6 375.6 207.6 375.6 208.7 375.6" fill="none" stroke="#ff00ff" stroke-width="1.45" stroke-dasharray="5.2 1.1 1.1 1.1" clip-path="url(#c3)"/>
<rect x="37.8" y="232.2" width="170.9" height="144" fill="none" stroke="#5c5c5c" stroke-width="1.1"/>
<rect x="153.4" y="236.4" width="50.9" height="79.1" fill="#fff" stroke="#5c5c5c" stroke-width="1.1"/>
<path d="M155.1 247.2 H171.1" stroke="#ff0000" stroke-width="1.45" stroke-dasharray="4.6 4.4"/>
<text x="172.4" y="249" class="lg" textLength="6.6" lengthAdjust="spacingAndGlyphs">N</text><text x="179.3" y="254.7" class="lg" style="font-size:8px" textLength="3" lengthAdjust="spacingAndGlyphs">b</text><text x="182.7" y="249" class="lg" textLength="18.3" lengthAdjust="spacingAndGlyphs">=0.3</text>
<path d="M155.1 266.4 H171.1" stroke="#000000" stroke-width="1.45" stroke-dasharray="5.2 1.1 1.1 1.1"/>
<text x="172.4" y="268" class="lg" textLength="6.6" lengthAdjust="spacingAndGlyphs">N</text><text x="179.3" y="273.7" class="lg" style="font-size:8px" textLength="3" lengthAdjust="spacingAndGlyphs">b</text><text x="182.7" y="268" class="lg" textLength="18.3" lengthAdjust="spacingAndGlyphs">=0.5</text>
<path d="M155.1 285.4 H171.1" stroke="#0000ff" stroke-width="1.45"/>
<text x="172.4" y="287" class="lg" textLength="6.6" lengthAdjust="spacingAndGlyphs">N</text><text x="179.3" y="292.7" class="lg" style="font-size:8px" textLength="3" lengthAdjust="spacingAndGlyphs">b</text><text x="182.7" y="287" class="lg" textLength="18.3" lengthAdjust="spacingAndGlyphs">=0.7</text>
<path d="M155.1 304.4 H171.1" stroke="#ff00ff" stroke-width="1.45" stroke-dasharray="5.2 1.1 1.1 1.1"/>
<text x="172.4" y="306" class="lg" textLength="6.6" lengthAdjust="spacingAndGlyphs">N</text><text x="179.3" y="311.7" class="lg" style="font-size:8px" textLength="3" lengthAdjust="spacingAndGlyphs">b</text><text x="182.7" y="306" class="lg" textLength="18.3" lengthAdjust="spacingAndGlyphs">=1.0</text>
<g transform="translate(12.2 304.5) rotate(-90)"><text x="0" y="0" class="yl" text-anchor="middle" style="font-size:15.5px"><tspan font-style="italic">&#950;</tspan><tspan dx="1">(</tspan><tspan font-style="italic" dx="0.3">&#951;</tspan><tspan dx="0.3">)</tspan></text><path d="M-10.6 -10.2 C-9.6 -12.2 -8.2 -10.2 -6.4 -11.6" fill="none" stroke="#000" stroke-width="0.9"/></g>
<text x="123.6" y="406.7" class="eta" text-anchor="middle">&#951;</text>
<text x="121.6" y="430" class="cap" text-anchor="middle">(d)</text>
</g>
<g>
<clipPath id="c4"><rect x="266.1" y="231.2" width="172" height="145.4"/></clipPath>
<path d="M266.6 376.1 v-2.0 M266.6 232.2 v2.0 M295.1 376.1 v-2.0 M295.1 232.2 v2.0 M323.6 376.1 v-2.0 M323.6 232.2 v2.0 M352.1 376.1 v-2.0 M352.1 232.2 v2.0 M380.6 376.1 v-2.0 M380.6 232.2 v2.0 M409.1 376.1 v-2.0 M409.1 232.2 v2.0 M437.6 376.1 v-2.0 M437.6 232.2 v2.0 M266.6 376.1 h2.0 M437.6 376.1 h-2.0 M266.6 344.12 h2.0 M437.6 344.12 h-2.0 M266.6 312.14 h2.0 M437.6 312.14 h-2.0 M266.6 280.17 h2.0 M437.6 280.17 h-2.0 M266.6 248.19 h2.0 M437.6 248.19 h-2.0" stroke="#5c5c5c" stroke-width="1.1" fill="none"/>
<text x="266.6" y="388.5" class="tk" text-anchor="middle">0</text>
<text x="295.1" y="388.5" class="tk" text-anchor="middle">1</text>
<text x="323.6" y="388.5" class="tk" text-anchor="middle">2</text>
<text x="352.1" y="388.5" class="tk" text-anchor="middle">3</text>
<text x="380.6" y="388.5" class="tk" text-anchor="middle">4</text>
<text x="409.1" y="388.5" class="tk" text-anchor="middle">5</text>
<text x="437.6" y="388.5" class="tk" text-anchor="middle">6</text>
<text x="264.1" y="379.6" class="tk" text-anchor="end">0</text>
<text x="264.1" y="347.62" class="tk" text-anchor="end">0.1</text>
<text x="264.1" y="315.64" class="tk" text-anchor="end">0.2</text>
<text x="264.1" y="283.67" class="tk" text-anchor="end">0.3</text>
<text x="264.1" y="251.69" class="tk" text-anchor="end">0.4</text>
<path d="M266.6 252.3 267.7 259.7 268.8 266.8 269.8 273.7 270.9 280.3 272 286.5 273.1 292.3 274.1 298.1 275.2 304 276.3 310.4 277.4 317.1 278.4 323.4 279.5 328.7 280.6 332.8 281.7 336.2 282.7 339.3 283.8 342.4 284.9 345.8 286 349.4 287 352.6 288.1 355 289.2 357.1 290.3 359 291.3 360.6 292.4 362.1 293.5 363.4 294.6 364.6 295.6 365.6 296.7 366.6 297.8 367.5 298.9 368.4 299.9 369.2 301 369.9 302.1 370.6 303.2 371.2 304.2 371.7 305.3 372.2 306.4 372.5 307.5 372.9 308.5 373.2 309.6 373.5 310.7 373.7 311.8 373.9 312.8 374.1 313.9 374.3 315 374.5 316.1 374.6 317.1 374.8 318.2 374.9 319.3 375.1 320.4 375.2 321.4 375.3 322.5 375.4 323.6 375.4 324.7 375.5 325.8 375.6 326.8 375.6 327.9 375.7 329 375.7 330.1 375.8 331.1 375.8 332.2 375.8 333.3 375.9 334.4 375.9 335.4 375.9 336.5 375.9 337.6 375.9 338.7 375.9 339.7 375.9 340.8 376 341.9 376 343 376 344 376 345.1 376 346.2 376 347.3 376 348.3 376 349.4 376 350.5 376 351.6 376 352.6 376 353.7 376 354.8 376 355.9 376 356.9 376 358 376 359.1 376 360.2 376 361.2 376 362.3 376 363.4 376 364.5 376 365.5 376 366.6 376 367.7 376 368.8 376 369.8 376 370.9 376 372 376 373.1 376 374.1 376 375.2 376 376.3 376.1 377.4 376.1 378.4 376.1 379.5 376.1 380.6 376.1 381.7 376.1 382.8 376.1 383.8 376.1 384.9 376.1 386 376.1 387.1 376.1 388.1 376.1 389.2 376.1 390.3 376.1 391.4 376.1 392.4 376.1 393.5 376.1 394.6 376.1 395.7 376.1 396.7 376.1 397.8 376.1 398.9 376.1 400 376.1 401 376.1 402.1 376.1 403.2 376.1 404.3 376.1 405.3 376.1 406.4 376.1 407.5 376.1 408.6 376.1 409.6 376.1 410.7 376.1 411.8 376.1 412.9 376.1 413.9 376.1 415 376.1 416.1 376.1 417.2 376.1 418.2 376.1 419.3 376.1 420.4 376.1 421.5 376.1 422.5 376.1 423.6 376.1 424.7 376.1 425.8 376.1 426.8 376.1 427.9 376.1 429 376.1 430.1 376.1 431.1 376.1 432.2 376.1 433.3 376.1 434.4 376.1 435.4 376.1 436.5 376.1 437.6 376.1" fill="none" stroke="#ff0000" stroke-width="1.45" stroke-dasharray="4.6 4.4" clip-path="url(#c4)"/>
<path d="M266.6 243.4 267.7 251.4 268.8 259.1 269.8 266.5 270.9 273.5 272 280.2 273.1 286.4 274.1 292.3 275.2 298.1 276.3 304 277.4 310.1 278.4 316.5 279.5 322.5 280.6 327.7 281.7 332 282.7 335.6 283.8 339 284.9 342.3 286 345.5 287 348.2 288.1 350.4 289.2 352.3 290.3 354 291.3 355.7 292.4 357.2 293.5 358.5 294.6 359.8 295.6 361 296.7 362.2 297.8 363.3 298.9 364.2 299.9 365.1 301 365.9 302.1 366.7 303.2 367.3 304.2 367.9 305.3 368.4 306.4 368.8 307.5 369.2 308.5 369.6 309.6 369.9 310.7 370.2 311.8 370.5 312.8 370.7 313.9 371 315 371.2 316.1 371.4 317.1 371.6 318.2 371.8 319.3 372 320.4 372.2 321.4 372.4 322.5 372.6 323.6 372.7 324.7 372.9 325.8 373 326.8 373.1 327.9 373.2 329 373.3 330.1 373.4 331.1 373.4 332.2 373.5 333.3 373.5 334.4 373.6 335.4 373.6 336.5 373.7 337.6 373.7 338.7 373.7 339.7 373.8 340.8 373.8 341.9 373.8 343 373.9 344 373.9 345.1 373.9 346.2 374 347.3 374 348.3 374.1 349.4 374.1 350.5 374.1 351.6 374.2 352.6 374.2 353.7 374.2 354.8 374.3 355.9 374.3 356.9 374.3 358 374.4 359.1 374.4 360.2 374.4 361.2 374.4 362.3 374.5 363.4 374.5 364.5 374.5 365.5 374.6 366.6 374.6 367.7 374.6 368.8 374.6 369.8 374.7 370.9 374.7 372 374.7 373.1 374.7 374.1 374.7 375.2 374.8 376.3 374.8 377.4 374.8 378.4 374.8 379.5 374.8 380.6 374.8 381.7 374.8 382.8 374.8 383.8 374.9 384.9 374.9 386 374.9 387.1 374.9 388.1 374.9 389.2 374.9 390.3 374.9 391.4 374.9 392.4 374.9 393.5 374.9 394.6 374.9 395.7 375 396.7 375 397.8 375 398.9 375 400 375 401 375 402.1 375 403.2 375 404.3 375 405.3 375 406.4 375 407.5 375 408.6 375 409.6 375.1 410.7 375.1 411.8 375.1 412.9 375.1 413.9 375.1 415 375.1 416.1 375.1 417.2 375.1 418.2 375.1 419.3 375.1 420.4 375.1 421.5 375.1 422.5 375.1 423.6 375.1 424.7 375.1 425.8 375.1 426.8 375.1 427.9 375.1 429 375.1 430.1 375.1 431.1 375.1 432.2 375.1 433.3 375.1 434.4 375.1 435.4 375.1 436.5 375.1 437.6 375.1" fill="none" stroke="#000000" stroke-width="1.45" stroke-dasharray="5.2 1.1 1.1 1.1" clip-path="url(#c4)"/>
<path d="M266.6 238.6 267.7 245.8 268.8 252.9 269.8 260 270.9 266.9 272 273.7 273.1 280.3 274.1 286.8 275.2 293.1 276.3 299.1 277.4 304.9 278.4 310.6 279.5 316.2 280.6 321.4 281.7 326 282.7 329.8 283.8 332.9 284.9 335.6 286 338.3 287 341.2 288.1 343.9 289.2 346.1 290.3 348 291.3 349.7 292.4 351.4 293.5 353.1 294.6 354.6 295.6 356 296.7 357.2 297.8 358.3 298.9 359.3 299.9 360.2 301 361 302.1 361.8 303.2 362.5 304.2 363.2 305.3 363.8 306.4 364.4 307.5 365 308.5 365.6 309.6 366.1 310.7 366.6 311.8 367 312.8 367.5 313.9 367.9 315 368.3 316.1 368.6 317.1 368.9 318.2 369.2 319.3 369.5 320.4 369.7 321.4 370 322.5 370.2 323.6 370.4 324.7 370.6 325.8 370.8 326.8 371 327.9 371.1 329 371.3 330.1 371.4 331.1 371.6 332.2 371.7 333.3 371.8 334.4 371.9 335.4 372.1 336.5 372.2 337.6 372.3 338.7 372.3 339.7 372.4 340.8 372.5 341.9 372.6 343 372.7 344 372.7 345.1 372.8 346.2 372.9 347.3 372.9 348.3 373 349.4 373 350.5 373.1 351.6 373.2 352.6 373.2 353.7 373.2 354.8 373.3 355.9 373.3 356.9 373.4 358 373.4 359.1 373.5 360.2 373.5 361.2 373.5 362.3 373.6 363.4 373.6 364.5 373.6 365.5 373.7 366.6 373.7 367.7 373.7 368.8 373.8 369.8 373.8 370.9 373.8 372 373.9 373.1 373.9 374.1 373.9 375.2 373.9 376.3 374 377.4 374 378.4 374 379.5 374 380.6 374.1 381.7 374.1 382.8 374.1 383.8 374.1 384.9 374.2 386 374.2 387.1 374.2 388.1 374.2 389.2 374.2 390.3 374.3 391.4 374.3 392.4 374.3 393.5 374.3 394.6 374.3 395.7 374.4 396.7 374.4 397.8 374.4 398.9 374.4 400 374.4 401 374.4 402.1 374.4 403.2 374.5 404.3 374.5 405.3 374.5 406.4 374.5 407.5 374.5 408.6 374.5 409.6 374.6 410.7 374.6 411.8 374.6 412.9 374.6 413.9 374.6 415 374.6 416.1 374.6 417.2 374.6 418.2 374.7 419.3 374.7 420.4 374.7 421.5 374.7 422.5 374.7 423.6 374.7 424.7 374.7 425.8 374.7 426.8 374.7 427.9 374.7 429 374.8 430.1 374.8 431.1 374.8 432.2 374.8 433.3 374.8 434.4 374.8 435.4 374.8 436.5 374.8 437.6 374.8" fill="none" stroke="#0000ff" stroke-width="1.45" clip-path="url(#c4)"/>
<path d="M266.6 233.2 267.7 239.7 268.8 246.3 269.8 252.8 270.9 259.2 272 265.5 273.1 271.7 274.1 277.9 275.2 283.9 276.3 289.7 277.4 295.3 278.4 300.6 279.5 305.6 280.6 310.5 281.7 315.2 282.7 319.6 283.8 323.7 284.9 327.4 286 330.7 287 333.8 288.1 336.5 289.2 339.1 290.3 341.5 291.3 343.7 292.4 345.7 293.5 347.6 294.6 349.2 295.6 350.7 296.7 352.1 297.8 353.4 298.9 354.5 299.9 355.5 301 356.4 302.1 357.3 303.2 358.1 304.2 358.8 305.3 359.4 306.4 360.1 307.5 360.7 308.5 361.2 309.6 361.8 310.7 362.2 311.8 362.7 312.8 363.2 313.9 363.6 315 364 316.1 364.3 317.1 364.7 318.2 365 319.3 365.4 320.4 365.7 321.4 366 322.5 366.2 323.6 366.5 324.7 366.8 325.8 367 326.8 367.2 327.9 367.4 329 367.7 330.1 367.8 331.1 368 332.2 368.2 333.3 368.4 334.4 368.5 335.4 368.7 336.5 368.8 337.6 369 338.7 369.1 339.7 369.3 340.8 369.4 341.9 369.5 343 369.6 344 369.7 345.1 369.8 346.2 369.9 347.3 370 348.3 370.1 349.4 370.2 350.5 370.3 351.6 370.4 352.6 370.4 353.7 370.5 354.8 370.6 355.9 370.7 356.9 370.7 358 370.8 359.1 370.9 360.2 370.9 361.2 371 362.3 371.1 363.4 371.1 364.5 371.2 365.5 371.3 366.6 371.3 367.7 371.4 368.8 371.4 369.8 371.5 370.9 371.6 372 371.6 373.1 371.7 374.1 371.7 375.2 371.8 376.3 371.8 377.4 371.9 378.4 371.9 379.5 372 380.6 372 381.7 372.1 382.8 372.1 383.8 372.2 384.9 372.2 386 372.3 387.1 372.3 388.1 372.3 389.2 372.4 390.3 372.4 391.4 372.5 392.4 372.5 393.5 372.5 394.6 372.6 395.7 372.6 396.7 372.6 397.8 372.7 398.9 372.7 400 372.7 401 372.8 402.1 372.8 403.2 372.8 404.3 372.9 405.3 372.9 406.4 372.9 407.5 372.9 408.6 373 409.6 373 410.7 373 411.8 373.1 412.9 373.1 413.9 373.1 415 373.1 416.1 373.2 417.2 373.2 418.2 373.2 419.3 373.2 420.4 373.3 421.5 373.3 422.5 373.3 423.6 373.3 424.7 373.3 425.8 373.4 426.8 373.4 427.9 373.4 429 373.4 430.1 373.4 431.1 373.4 432.2 373.5 433.3 373.5 434.4 373.5 435.4 373.5 436.5 373.5 437.6 373.5" fill="none" stroke="#ff00ff" stroke-width="1.45" stroke-dasharray="5.2 1.1 1.1 1.1" clip-path="url(#c4)"/>
<rect x="266.6" y="232.2" width="171" height="143.9" fill="none" stroke="#5c5c5c" stroke-width="1.1"/>
<rect x="383.5" y="236.5" width="50.3" height="59.8" fill="#fff" stroke="#5c5c5c" stroke-width="1.1"/>
<path d="M385.2 245 H401.2" stroke="#ff0000" stroke-width="1.45" stroke-dasharray="4.6 4.4"/>
<text x="403.2" y="248" class="lgs" style="font-size:11.5px"><tspan font-style="italic">&#955;</tspan></text><path d="M403.8 238.6 h4" stroke="#000" stroke-width="0.75"/><text x="408.2" y="249.8" class="lgs" style="font-size:7px">1</text><text x="412.2" y="247.7" class="lgs" textLength="6.0" lengthAdjust="spacingAndGlyphs">=</text><text x="419.1" y="248" class="lgs" textLength="12.6" lengthAdjust="spacingAndGlyphs">0.0</text>
<path d="M385.2 259.2 H401.2" stroke="#000000" stroke-width="1.45" stroke-dasharray="5.2 1.1 1.1 1.1"/>
<text x="403.2" y="262" class="lgs" style="font-size:11.5px"><tspan font-style="italic">&#955;</tspan></text><path d="M403.8 252.6 h4" stroke="#000" stroke-width="0.75"/><text x="408.2" y="263.8" class="lgs" style="font-size:7px">1</text><text x="412.2" y="261.7" class="lgs" textLength="6.0" lengthAdjust="spacingAndGlyphs">=</text><text x="419.1" y="262" class="lgs" textLength="12.6" lengthAdjust="spacingAndGlyphs">0.3</text>
<path d="M385.2 273.5 H401.2" stroke="#0000ff" stroke-width="1.45"/>
<text x="403.2" y="276.3" class="lgs" style="font-size:11.5px"><tspan font-style="italic">&#955;</tspan></text><path d="M403.8 266.9 h4" stroke="#000" stroke-width="0.75"/><text x="408.2" y="278.1" class="lgs" style="font-size:7px">1</text><text x="412.2" y="276" class="lgs" textLength="6.0" lengthAdjust="spacingAndGlyphs">=</text><text x="419.1" y="276.3" class="lgs" textLength="12.6" lengthAdjust="spacingAndGlyphs">0.6</text>
<path d="M385.2 287.9 H401.2" stroke="#ff00ff" stroke-width="1.45" stroke-dasharray="5.2 1.1 1.1 1.1"/>
<text x="403.2" y="290.6" class="lgs" style="font-size:11.5px"><tspan font-style="italic">&#955;</tspan></text><path d="M403.8 281.2 h4" stroke="#000" stroke-width="0.75"/><text x="408.2" y="292.4" class="lgs" style="font-size:7px">1</text><text x="412.2" y="290.3" class="lgs" textLength="6.0" lengthAdjust="spacingAndGlyphs">=</text><text x="419.1" y="290.6" class="lgs" textLength="12.6" lengthAdjust="spacingAndGlyphs">0.9</text>
<g transform="translate(241.1 304.5) rotate(-90)"><text x="0" y="0" class="yl" text-anchor="middle" style="font-size:15.5px"><tspan font-style="italic">&#950;</tspan><tspan dx="1">(</tspan><tspan font-style="italic" dx="0.3">&#951;</tspan><tspan dx="0.3">)</tspan></text><path d="M-10.6 -10.2 C-9.6 -12.2 -8.2 -10.2 -6.4 -11.6" fill="none" stroke="#000" stroke-width="0.9"/></g>
<text x="352.4" y="406.7" class="eta" text-anchor="middle">&#951;</text>
<text x="350.3" y="430" class="cap" text-anchor="middle">(e)</text>
</g>
<g>
<clipPath id="c5"><rect x="495.2" y="231.3" width="171.7" height="145.4"/></clipPath>
<path d="M495.7 376.2 v-2.0 M495.7 232.3 v2.0 M524.15 376.2 v-2.0 M524.15 232.3 v2.0 M552.6 376.2 v-2.0 M552.6 232.3 v2.0 M581.05 376.2 v-2.0 M581.05 232.3 v2.0 M609.5 376.2 v-2.0 M609.5 232.3 v2.0 M637.95 376.2 v-2.0 M637.95 232.3 v2.0 M666.4 376.2 v-2.0 M666.4 232.3 v2.0 M495.7 376.2 h2.0 M666.4 376.2 h-2.0 M495.7 344.22 h2.0 M666.4 344.22 h-2.0 M495.7 312.24 h2.0 M666.4 312.24 h-2.0 M495.7 280.27 h2.0 M666.4 280.27 h-2.0 M495.7 248.29 h2.0 M666.4 248.29 h-2.0" stroke="#5c5c5c" stroke-width="1.1" fill="none"/>
<text x="495.7" y="388.6" class="tk" text-anchor="middle">0</text>
<text x="524.15" y="388.6" class="tk" text-anchor="middle">1</text>
<text x="552.6" y="388.6" class="tk" text-anchor="middle">2</text>
<text x="581.05" y="388.6" class="tk" text-anchor="middle">3</text>
<text x="609.5" y="388.6" class="tk" text-anchor="middle">4</text>
<text x="637.95" y="388.6" class="tk" text-anchor="middle">5</text>
<text x="666.4" y="388.6" class="tk" text-anchor="middle">6</text>
<text x="493.2" y="379.7" class="tk" text-anchor="end">0</text>
<text x="493.2" y="347.72" class="tk" text-anchor="end">0.1</text>
<text x="493.2" y="315.74" class="tk" text-anchor="end">0.2</text>
<text x="493.2" y="283.77" class="tk" text-anchor="end">0.3</text>
<text x="493.2" y="251.79" class="tk" text-anchor="end">0.4</text>
<path d="M495.7 246.7 496.8 255.2 497.8 263.2 498.9 270.7 500 277.5 501.1 283.8 502.1 289.9 503.2 295.7 504.3 301.4 505.4 306.9 506.4 312.3 507.5 317.7 508.6 323.2 509.7 328.6 510.7 333.3 511.8 337.5 512.9 341.3 514 344.6 515 347.5 516.1 350 517.2 352.2 518.2 354.3 519.3 356.1 520.4 357.7 521.5 359.2 522.5 360.5 523.6 361.8 524.7 362.8 525.8 363.8 526.8 364.7 527.9 365.5 529 366.3 530.1 366.9 531.1 367.5 532.2 368 533.3 368.4 534.3 368.9 535.4 369.3 536.5 369.7 537.6 370 538.6 370.3 539.7 370.6 540.8 370.8 541.9 371 542.9 371.2 544 371.4 545.1 371.6 546.2 371.8 547.2 371.9 548.3 372.1 549.4 372.2 550.5 372.3 551.5 372.5 552.6 372.6 553.7 372.7 554.7 372.8 555.8 372.9 556.9 373 558 373.1 559 373.2 560.1 373.2 561.2 373.3 562.3 373.4 563.3 373.4 564.4 373.5 565.5 373.6 566.6 373.6 567.6 373.7 568.7 373.7 569.8 373.8 570.9 373.8 571.9 373.9 573 373.9 574.1 374 575.1 374 576.2 374.1 577.3 374.1 578.4 374.1 579.4 374.2 580.5 374.2 581.6 374.3 582.7 374.3 583.7 374.3 584.8 374.4 585.9 374.4 587 374.4 588 374.5 589.1 374.5 590.2 374.5 591.2 374.5 592.3 374.5 593.4 374.6 594.5 374.6 595.5 374.6 596.6 374.6 597.7 374.6 598.8 374.7 599.8 374.7 600.9 374.7 602 374.7 603.1 374.7 604.1 374.7 605.2 374.8 606.3 374.8 607.4 374.8 608.4 374.8 609.5 374.8 610.6 374.8 611.6 374.8 612.7 374.9 613.8 374.9 614.9 374.9 615.9 374.9 617 374.9 618.1 374.9 619.2 374.9 620.2 375 621.3 375 622.4 375 623.5 375 624.5 375 625.6 375 626.7 375 627.8 375 628.8 375 629.9 375.1 631 375.1 632 375.1 633.1 375.1 634.2 375.1 635.3 375.1 636.3 375.1 637.4 375.1 638.5 375.1 639.6 375.1 640.6 375.1 641.7 375.2 642.8 375.2 643.9 375.2 644.9 375.2 646 375.2 647.1 375.2 648.1 375.2 649.2 375.2 650.3 375.2 651.4 375.2 652.4 375.2 653.5 375.2 654.6 375.2 655.7 375.2 656.7 375.2 657.8 375.2 658.9 375.2 660 375.2 661 375.2 662.1 375.2 663.2 375.2 664.3 375.2 665.3 375.2 666.4 375.2" fill="none" stroke="#ff0000" stroke-width="1.45" stroke-dasharray="4.6 4.4" clip-path="url(#c5)"/>
<path d="M495.7 248.3 496.8 257 497.8 265.1 498.9 272.6 500 279.3 501.1 285.4 502.1 291.3 503.2 297 504.3 302.7 505.4 308.2 506.4 313.5 507.5 319 508.6 324.6 509.7 330.1 510.7 334.9 511.8 339.1 512.9 342.9 514 346.2 515 349 516.1 351.5 517.2 353.6 518.2 355.5 519.3 357.3 520.4 359 521.5 360.6 522.5 362 523.6 363.3 524.7 364.4 525.8 365.5 526.8 366.4 527.9 367.3 529 368.1 530.1 368.8 531.1 369.4 532.2 370 533.3 370.4 534.3 370.8 535.4 371.1 536.5 371.5 537.6 371.7 538.6 372 539.7 372.2 540.8 372.4 541.9 372.6 542.9 372.8 544 373 545.1 373.1 546.2 373.2 547.2 373.4 548.3 373.5 549.4 373.6 550.5 373.7 551.5 373.8 552.6 373.8 553.7 373.9 554.7 374 555.8 374 556.9 374.1 558 374.2 559 374.2 560.1 374.3 561.2 374.3 562.3 374.4 563.3 374.4 564.4 374.5 565.5 374.5 566.6 374.5 567.6 374.6 568.7 374.6 569.8 374.6 570.9 374.7 571.9 374.7 573 374.7 574.1 374.8 575.1 374.8 576.2 374.8 577.3 374.8 578.4 374.9 579.4 374.9 580.5 374.9 581.6 374.9 582.7 374.9 583.7 375 584.8 375 585.9 375 587 375 588 375 589.1 375.1 590.2 375.1 591.2 375.1 592.3 375.1 593.4 375.1 594.5 375.1 595.5 375.2 596.6 375.2 597.7 375.2 598.8 375.2 599.8 375.2 600.9 375.2 602 375.3 603.1 375.3 604.1 375.3 605.2 375.3 606.3 375.3 607.4 375.3 608.4 375.3 609.5 375.4 610.6 375.4 611.6 375.4 612.7 375.4 613.8 375.4 614.9 375.4 615.9 375.4 617 375.4 618.1 375.5 619.2 375.5 620.2 375.5 621.3 375.5 622.4 375.5 623.5 375.5 624.5 375.5 625.6 375.5 626.7 375.5 627.8 375.5 628.8 375.6 629.9 375.6 631 375.6 632 375.6 633.1 375.6 634.2 375.6 635.3 375.6 636.3 375.6 637.4 375.6 638.5 375.6 639.6 375.6 640.6 375.6 641.7 375.6 642.8 375.7 643.9 375.7 644.9 375.7 646 375.7 647.1 375.7 648.1 375.7 649.2 375.7 650.3 375.7 651.4 375.7 652.4 375.7 653.5 375.7 654.6 375.7 655.7 375.7 656.7 375.7 657.8 375.7 658.9 375.7 660 375.7 661 375.7 662.1 375.7 663.2 375.7 664.3 375.7 665.3 375.7 666.4 375.7" fill="none" stroke="#000000" stroke-width="1.45" stroke-dasharray="5.2 1.1 1.1 1.1" clip-path="url(#c5)"/>
<path d="M495.7 249.2 496.8 257.8 497.8 265.8 498.9 273.2 500 279.9 501.1 286 502.1 291.9 503.2 297.7 504.3 303.3 505.4 308.8 506.4 314.2 507.5 319.6 508.6 325.3 509.7 330.7 510.7 335.6 511.8 339.7 512.9 343.4 514 346.7 515 349.5 516.1 351.9 517.2 354.1 518.2 356 519.3 357.8 520.4 359.5 521.5 361.1 522.5 362.6 523.6 363.9 524.7 365.1 525.8 366.1 526.8 367 527.9 367.9 529 368.6 530.1 369.3 531.1 369.9 532.2 370.4 533.3 370.8 534.3 371.2 535.4 371.5 536.5 371.8 537.6 372.1 538.6 372.4 539.7 372.6 540.8 372.8 541.9 373 542.9 373.1 544 373.3 545.1 373.4 546.2 373.5 547.2 373.6 548.3 373.7 549.4 373.8 550.5 373.9 551.5 374 552.6 374.1 553.7 374.1 554.7 374.2 555.8 374.3 556.9 374.3 558 374.4 559 374.4 560.1 374.5 561.2 374.5 562.3 374.6 563.3 374.6 564.4 374.6 565.5 374.7 566.6 374.7 567.6 374.7 568.7 374.8 569.8 374.8 570.9 374.8 571.9 374.9 573 374.9 574.1 374.9 575.1 374.9 576.2 375 577.3 375 578.4 375 579.4 375 580.5 375.1 581.6 375.1 582.7 375.1 583.7 375.1 584.8 375.2 585.9 375.2 587 375.2 588 375.2 589.1 375.3 590.2 375.3 591.2 375.3 592.3 375.3 593.4 375.3 594.5 375.4 595.5 375.4 596.6 375.4 597.7 375.4 598.8 375.4 599.8 375.4 600.9 375.5 602 375.5 603.1 375.5 604.1 375.5 605.2 375.5 606.3 375.5 607.4 375.5 608.4 375.6 609.5 375.6 610.6 375.6 611.6 375.6 612.7 375.6 613.8 375.6 614.9 375.6 615.9 375.6 617 375.6 618.1 375.6 619.2 375.6 620.2 375.7 621.3 375.7 622.4 375.7 623.5 375.7 624.5 375.7 625.6 375.7 626.7 375.7 627.8 375.7 628.8 375.7 629.9 375.7 631 375.7 632 375.7 633.1 375.8 634.2 375.8 635.3 375.8 636.3 375.8 637.4 375.8 638.5 375.8 639.6 375.8 640.6 375.8 641.7 375.8 642.8 375.8 643.9 375.8 644.9 375.8 646 375.8 647.1 375.8 648.1 375.8 649.2 375.8 650.3 375.8 651.4 375.9 652.4 375.9 653.5 375.9 654.6 375.9 655.7 375.9 656.7 375.9 657.8 375.9 658.9 375.9 660 375.9 661 375.9 662.1 375.9 663.2 375.9 664.3 375.9 665.3 375.9 666.4 375.9" fill="none" stroke="#0000ff" stroke-width="1.45" clip-path="url(#c5)"/>
<path d="M495.7 249.2 496.8 257.8 497.8 265.8 498.9 273.2 500 279.9 501.1 286 502.1 291.9 503.2 297.7 504.3 303.3 505.4 308.8 506.4 314.2 507.5 319.6 508.6 325.3 509.7 330.7 510.7 335.6 511.8 339.7 512.9 343.4 514 346.7 515 349.5 516.1 351.9 517.2 354.1 518.2 356 519.3 357.8 520.4 359.5 521.5 361.1 522.5 362.6 523.6 363.9 524.7 365.1 525.8 366.1 526.8 367 527.9 367.9 529 368.6 530.1 369.3 531.1 369.9 532.2 370.4 533.3 370.8 534.3 371.2 535.4 371.5 536.5 371.8 537.6 372.1 538.6 372.4 539.7 372.6 540.8 372.8 541.9 373 542.9 373.1 544 373.3 545.1 373.4 546.2 373.5 547.2 373.6 548.3 373.7 549.4 373.8 550.5 373.9 551.5 374 552.6 374.1 553.7 374.1 554.7 374.2 555.8 374.3 556.9 374.3 558 374.4 559 374.4 560.1 374.5 561.2 374.5 562.3 374.6 563.3 374.6 564.4 374.6 565.5 374.7 566.6 374.7 567.6 374.7 568.7 374.8 569.8 374.8 570.9 374.8 571.9 374.9 573 374.9 574.1 374.9 575.1 374.9 576.2 375 577.3 375 578.4 375 579.4 375 580.5 375.1 581.6 375.1 582.7 375.1 583.7 375.1 584.8 375.2 585.9 375.2 587 375.2 588 375.2 589.1 375.3 590.2 375.3 591.2 375.3 592.3 375.3 593.4 375.3 594.5 375.4 595.5 375.4 596.6 375.4 597.7 375.4 598.8 375.4 599.8 375.4 600.9 375.5 602 375.5 603.1 375.5 604.1 375.5 605.2 375.5 606.3 375.5 607.4 375.5 608.4 375.6 609.5 375.6 610.6 375.6 611.6 375.6 612.7 375.6 613.8 375.6 614.9 375.6 615.9 375.6 617 375.6 618.1 375.6 619.2 375.6 620.2 375.7 621.3 375.7 622.4 375.7 623.5 375.7 624.5 375.7 625.6 375.7 626.7 375.7 627.8 375.7 628.8 375.7 629.9 375.7 631 375.7 632 375.7 633.1 375.8 634.2 375.8 635.3 375.8 636.3 375.8 637.4 375.8 638.5 375.8 639.6 375.8 640.6 375.8 641.7 375.8 642.8 375.8 643.9 375.8 644.9 375.8 646 375.8 647.1 375.8 648.1 375.8 649.2 375.8 650.3 375.8 651.4 375.9 652.4 375.9 653.5 375.9 654.6 375.9 655.7 375.9 656.7 375.9 657.8 375.9 658.9 375.9 660 375.9 661 375.9 662.1 375.9 663.2 375.9 664.3 375.9 665.3 375.9 666.4 375.9" fill="none" stroke="#ff00ff" stroke-width="1.45" stroke-dasharray="5.2 1.1 1.1 1.1" clip-path="url(#c5)"/>
<rect x="543.4" y="280.4" width="50.7" height="48.7" fill="#fff" stroke="#5c5c5c" stroke-width="1.1"/>
<clipPath id="ic5"><rect x="543.4" y="280.4" width="50.7" height="48.7"/></clipPath>
<path d="M545.8 280.4 Q568 301 593.9 328.9" fill="none" stroke="#ff0000" stroke-width="1.45" stroke-dasharray="4.6 4.4" clip-path="url(#ic5)"/>
<path d="M543.4 285.3 Q562 304 583.6 328.9" fill="none" stroke="#000000" stroke-width="1.45" stroke-dasharray="5.2 1.1 1.1 1.1" clip-path="url(#ic5)"/>
<path d="M543.4 288.2 Q561 306 581.6 328.9" fill="none" stroke="#0000ff" stroke-width="1.45" clip-path="url(#ic5)"/>
<path d="M543.4 289.7 Q560 307 580.2 328.9" fill="none" stroke="#ff00ff" stroke-width="1.45" stroke-dasharray="5.2 1.1 1.1 1.1" clip-path="url(#ic5)"/>
<path d="M514.4 330.6 L535.71 315.77" stroke="#000" stroke-width="1.2"/><path d="M539.4 313.2 L536.37 318.48 L533.4 314.21 Z" fill="#000"/>
<rect x="495.7" y="232.3" width="170.7" height="143.9" fill="none" stroke="#5c5c5c" stroke-width="1.1"/>
<rect x="610.5" y="236.5" width="52.3" height="59.5" fill="#fff" stroke="#5c5c5c" stroke-width="1.1"/>
<path d="M612.2 245 H628" stroke="#ff0000" stroke-width="1.45" stroke-dasharray="4.6 4.4"/>
<text x="630.1" y="248" class="lgs" style="font-size:10.8px"><tspan font-style="italic">E</tspan></text><path d="M632.3 239.4 c0.8 -1.4 1.6 -1.1 2.3 -0.5 s1.5 0.6 2.3 -0.6" fill="none" stroke="#000" stroke-width="0.7"/><text x="636.7" y="245.4" class="lgs" style="font-size:7.5px">*</text><text x="640.9" y="247.7" class="lgs" textLength="6.0" lengthAdjust="spacingAndGlyphs">=</text><text x="647.5" y="248" class="lgs" textLength="13.2" lengthAdjust="spacingAndGlyphs">0.0</text>
<path d="M612.2 259.2 H628" stroke="#000000" stroke-width="1.45" stroke-dasharray="5.2 1.1 1.1 1.1"/>
<text x="630.1" y="262" class="lgs" style="font-size:10.8px"><tspan font-style="italic">E</tspan></text><path d="M632.3 253.4 c0.8 -1.4 1.6 -1.1 2.3 -0.5 s1.5 0.6 2.3 -0.6" fill="none" stroke="#000" stroke-width="0.7"/><text x="636.7" y="259.4" class="lgs" style="font-size:7.5px">*</text><text x="640.9" y="261.7" class="lgs" textLength="6.0" lengthAdjust="spacingAndGlyphs">=</text><text x="647.5" y="262" class="lgs" textLength="13.2" lengthAdjust="spacingAndGlyphs">1.0</text>
<path d="M612.2 273.5 H628" stroke="#0000ff" stroke-width="1.45"/>
<text x="630.1" y="276.3" class="lgs" style="font-size:10.8px"><tspan font-style="italic">E</tspan></text><path d="M632.3 267.7 c0.8 -1.4 1.6 -1.1 2.3 -0.5 s1.5 0.6 2.3 -0.6" fill="none" stroke="#000" stroke-width="0.7"/><text x="636.7" y="273.7" class="lgs" style="font-size:7.5px">*</text><text x="640.9" y="276" class="lgs" textLength="6.0" lengthAdjust="spacingAndGlyphs">=</text><text x="647.5" y="276.3" class="lgs" textLength="13.2" lengthAdjust="spacingAndGlyphs">2.0</text>
<path d="M612.2 287.9 H628" stroke="#ff00ff" stroke-width="1.45" stroke-dasharray="5.2 1.1 1.1 1.1"/>
<text x="630.1" y="290.6" class="lgs" style="font-size:10.8px"><tspan font-style="italic">E</tspan></text><path d="M632.3 282 c0.8 -1.4 1.6 -1.1 2.3 -0.5 s1.5 0.6 2.3 -0.6" fill="none" stroke="#000" stroke-width="0.7"/><text x="636.7" y="288" class="lgs" style="font-size:7.5px">*</text><text x="640.9" y="290.3" class="lgs" textLength="6.0" lengthAdjust="spacingAndGlyphs">=</text><text x="647.5" y="290.6" class="lgs" textLength="13.2" lengthAdjust="spacingAndGlyphs">3.0</text>
<g transform="translate(470.2 304.5) rotate(-90)"><text x="0" y="0" class="yl" text-anchor="middle" style="font-size:15.5px"><tspan font-style="italic">&#950;</tspan><tspan dx="1">(</tspan><tspan font-style="italic" dx="0.3">&#951;</tspan><tspan dx="0.3">)</tspan></text><path d="M-10.6 -10.2 C-9.6 -12.2 -8.2 -10.2 -6.4 -11.6" fill="none" stroke="#000" stroke-width="0.9"/></g>
<text x="581.3" y="406.7" class="eta" text-anchor="middle">&#951;</text>
<text x="579.3" y="430" class="cap" text-anchor="middle">(f)</text>
</g>
<g>
<clipPath id="c6"><rect x="152" y="462.3" width="171.9" height="145.6"/></clipPath>
<path d="M152.5 607.4 v-2.0 M152.5 463.3 v2.0 M186.68 607.4 v-2.0 M186.68 463.3 v2.0 M220.86 607.4 v-2.0 M220.86 463.3 v2.0 M255.04 607.4 v-2.0 M255.04 463.3 v2.0 M289.22 607.4 v-2.0 M289.22 463.3 v2.0 M323.4 607.4 v-2.0 M323.4 463.3 v2.0 M152.5 607.4 h2.0 M323.4 607.4 h-2.0 M152.5 578.58 h2.0 M323.4 578.58 h-2.0 M152.5 549.76 h2.0 M323.4 549.76 h-2.0 M152.5 520.94 h2.0 M323.4 520.94 h-2.0 M152.5 492.12 h2.0 M323.4 492.12 h-2.0 M152.5 463.3 h2.0 M323.4 463.3 h-2.0" stroke="#5c5c5c" stroke-width="1.1" fill="none"/>
<text x="152.5" y="619.8" class="tk" text-anchor="middle">0</text>
<text x="186.68" y="619.8" class="tk" text-anchor="middle">1</text>
<text x="220.86" y="619.8" class="tk" text-anchor="middle">2</text>
<text x="255.04" y="619.8" class="tk" text-anchor="middle">3</text>
<text x="289.22" y="619.8" class="tk" text-anchor="middle">4</text>
<text x="323.4" y="619.8" class="tk" text-anchor="middle">5</text>
<text x="150" y="610.9" class="tk" text-anchor="end">0</text>
<text x="150" y="582.08" class="tk" text-anchor="end">0.1</text>
<text x="150" y="553.26" class="tk" text-anchor="end">0.2</text>
<text x="150" y="524.44" class="tk" text-anchor="end">0.3</text>
<text x="150" y="495.62" class="tk" text-anchor="end">0.4</text>
<text x="150" y="466.8" class="tk" text-anchor="end">0.5</text>
<path d="M152.5 475.4 153.6 484.8 154.6 493.8 155.7 502.2 156.8 510.2 157.9 517.8 158.9 524.8 160 531 161.1 536.7 162.2 541.8 163.2 546.4 164.3 550.6 165.4 554.6 166.5 558.5 167.5 562.3 168.6 565.9 169.7 569.1 170.8 571.9 171.8 574.4 172.9 576.8 174 578.9 175.1 580.8 176.1 582.6 177.2 584.2 178.3 585.6 179.4 587 180.4 588.2 181.5 589.4 182.6 590.5 183.7 591.4 184.7 592.3 185.8 593.2 186.9 593.9 188 594.6 189 595.3 190.1 595.9 191.2 596.5 192.3 597 193.3 597.5 194.4 598 195.5 598.4 196.6 598.8 197.6 599.2 198.7 599.6 199.8 599.9 200.9 600.3 201.9 600.6 203 600.9 204.1 601.2 205.2 601.5 206.2 601.7 207.3 602 208.4 602.2 209.5 602.4 210.5 602.5 211.6 602.7 212.7 602.8 213.8 602.9 214.8 603 215.9 603.2 217 603.3 218.1 603.4 219.1 603.5 220.2 603.6 221.3 603.7 222.4 603.8 223.4 603.9 224.5 604 225.6 604.1 226.7 604.2 227.7 604.3 228.8 604.4 229.9 604.5 231 604.6 232 604.6 233.1 604.7 234.2 604.8 235.3 604.8 236.3 604.9 237.4 605 238.5 605 239.6 605.1 240.6 605.1 241.7 605.2 242.8 605.2 243.9 605.3 244.9 605.3 246 605.4 247.1 605.4 248.2 605.4 249.2 605.5 250.3 605.5 251.4 605.6 252.5 605.6 253.5 605.6 254.6 605.7 255.7 605.7 256.8 605.7 257.8 605.8 258.9 605.8 260 605.8 261.1 605.8 262.1 605.9 263.2 605.9 264.3 605.9 265.4 606 266.4 606 267.5 606 268.6 606 269.7 606.1 270.7 606.1 271.8 606.1 272.9 606.1 274 606.1 275 606.2 276.1 606.2 277.2 606.2 278.3 606.2 279.3 606.2 280.4 606.3 281.5 606.3 282.6 606.3 283.6 606.3 284.7 606.3 285.8 606.3 286.9 606.4 287.9 606.4 289 606.4 290.1 606.4 291.2 606.4 292.2 606.4 293.3 606.4 294.4 606.5 295.5 606.5 296.5 606.5 297.6 606.5 298.7 606.5 299.8 606.5 300.8 606.5 301.9 606.5 303 606.5 304.1 606.6 305.1 606.6 306.2 606.6 307.3 606.6 308.4 606.6 309.4 606.6 310.5 606.6 311.6 606.6 312.7 606.6 313.7 606.6 314.8 606.6 315.9 606.6 317 606.6 318 606.7 319.1 606.7 320.2 606.7 321.3 606.7 322.3 606.7 323.4 606.7" fill="none" stroke="#ff0000" stroke-width="1.45" stroke-dasharray="4.6 4.4" clip-path="url(#c6)"/>
<path d="M152.5 506 153.6 514.2 154.6 521.3 155.7 527.5 156.8 532.7 157.9 537.1 158.9 541.1 160 545 161.1 548.9 162.2 552.5 163.2 555.9 164.3 559.2 165.4 562.3 166.5 565.2 167.5 567.9 168.6 570.4 169.7 572.7 170.8 574.8 171.8 576.8 172.9 578.8 174 580.6 175.1 582.5 176.1 584.4 177.2 586.2 178.3 587.7 179.4 589 180.4 590 181.5 590.9 182.6 591.8 183.7 592.5 184.7 593.2 185.8 593.9 186.9 594.5 188 595.2 189 595.8 190.1 596.3 191.2 596.9 192.3 597.4 193.3 597.9 194.4 598.3 195.5 598.7 196.6 599.1 197.6 599.5 198.7 599.9 199.8 600.2 200.9 600.5 201.9 600.8 203 601.1 204.1 601.4 205.2 601.6 206.2 601.8 207.3 602 208.4 602.2 209.5 602.4 210.5 602.6 211.6 602.7 212.7 602.8 213.8 603 214.8 603.1 215.9 603.2 217 603.3 218.1 603.4 219.1 603.5 220.2 603.6 221.3 603.7 222.4 603.8 223.4 603.9 224.5 604 225.6 604.1 226.7 604.2 227.7 604.3 228.8 604.4 229.9 604.5 231 604.6 232 604.6 233.1 604.7 234.2 604.8 235.3 604.8 236.3 604.9 237.4 605 238.5 605 239.6 605.1 240.6 605.1 241.7 605.2 242.8 605.2 243.9 605.3 244.9 605.3 246 605.4 247.1 605.4 248.2 605.4 249.2 605.5 250.3 605.5 251.4 605.6 252.5 605.6 253.5 605.6 254.6 605.7 255.7 605.7 256.8 605.7 257.8 605.8 258.9 605.8 260 605.8 261.1 605.8 262.1 605.9 263.2 605.9 264.3 605.9 265.4 606 266.4 606 267.5 606 268.6 606 269.7 606.1 270.7 606.1 271.8 606.1 272.9 606.1 274 606.1 275 606.2 276.1 606.2 277.2 606.2 278.3 606.2 279.3 606.2 280.4 606.3 281.5 606.3 282.6 606.3 283.6 606.3 284.7 606.3 285.8 606.3 286.9 606.4 287.9 606.4 289 606.4 290.1 606.4 291.2 606.4 292.2 606.4 293.3 606.4 294.4 606.5 295.5 606.5 296.5 606.5 297.6 606.5 298.7 606.5 299.8 606.5 300.8 606.5 301.9 606.5 303 606.5 304.1 606.6 305.1 606.6 306.2 606.6 307.3 606.6 308.4 606.6 309.4 606.6 310.5 606.6 311.6 606.6 312.7 606.6 313.7 606.6 314.8 606.6 315.9 606.6 317 606.6 318 606.7 319.1 606.7 320.2 606.7 321.3 606.7 322.3 606.7 323.4 606.7" fill="none" stroke="#000000" stroke-width="1.45" stroke-dasharray="5.2 1.1 1.1 1.1" clip-path="url(#c6)"/>
<path d="M152.5 519.5 153.6 524 154.6 528.4 155.7 532.9 156.8 537.3 157.9 541.5 158.9 545.7 160 549.8 161.1 553.8 162.2 557.4 163.2 560.8 164.3 563.9 165.4 566.8 166.5 569.5 167.5 571.9 168.6 574.1 169.7 576.2 170.8 578.1 171.8 579.9 172.9 581.6 174 583.1 175.1 584.6 176.1 585.9 177.2 587.2 178.3 588.3 179.4 589.3 180.4 590.3 181.5 591.1 182.6 591.9 183.7 592.7 184.7 593.4 185.8 594 186.9 594.7 188 595.3 189 595.9 190.1 596.4 191.2 596.9 192.3 597.4 193.3 597.9 194.4 598.4 195.5 598.8 196.6 599.2 197.6 599.5 198.7 599.9 199.8 600.2 200.9 600.5 201.9 600.8 203 601.1 204.1 601.4 205.2 601.6 206.2 601.8 207.3 602.1 208.4 602.2 209.5 602.4 210.5 602.6 211.6 602.7 212.7 602.8 213.8 603 214.8 603.1 215.9 603.2 217 603.3 218.1 603.4 219.1 603.5 220.2 603.6 221.3 603.7 222.4 603.8 223.4 603.9 224.5 604 225.6 604.1 226.7 604.2 227.7 604.3 228.8 604.4 229.9 604.5 231 604.6 232 604.6 233.1 604.7 234.2 604.8 235.3 604.8 236.3 604.9 237.4 605 238.5 605 239.6 605.1 240.6 605.1 241.7 605.2 242.8 605.2 243.9 605.3 244.9 605.3 246 605.4 247.1 605.4 248.2 605.4 249.2 605.5 250.3 605.5 251.4 605.6 252.5 605.6 253.5 605.6 254.6 605.7 255.7 605.7 256.8 605.7 257.8 605.8 258.9 605.8 260 605.8 261.1 605.8 262.1 605.9 263.2 605.9 264.3 605.9 265.4 606 266.4 606 267.5 606 268.6 606 269.7 606.1 270.7 606.1 271.8 606.1 272.9 606.1 274 606.1 275 606.2 276.1 606.2 277.2 606.2 278.3 606.2 279.3 606.2 280.4 606.3 281.5 606.3 282.6 606.3 283.6 606.3 284.7 606.3 285.8 606.3 286.9 606.4 287.9 606.4 289 606.4 290.1 606.4 291.2 606.4 292.2 606.4 293.3 606.4 294.4 606.5 295.5 606.5 296.5 606.5 297.6 606.5 298.7 606.5 299.8 606.5 300.8 606.5 301.9 606.5 303 606.5 304.1 606.6 305.1 606.6 306.2 606.6 307.3 606.6 308.4 606.6 309.4 606.6 310.5 606.6 311.6 606.6 312.7 606.6 313.7 606.6 314.8 606.6 315.9 606.6 317 606.6 318 606.7 319.1 606.7 320.2 606.7 321.3 606.7 322.3 606.7 323.4 606.7" fill="none" stroke="#0000ff" stroke-width="1.45" clip-path="url(#c6)"/>
<rect x="152.5" y="463.3" width="170.9" height="144.1" fill="none" stroke="#5c5c5c" stroke-width="1.1"/>
<rect x="270.5" y="468.2" width="49.2" height="58.3" fill="#fff" stroke="#5c5c5c" stroke-width="1.1"/>
<path d="M272.2 478.2 H288" stroke="#ff0000" stroke-width="1.45" stroke-dasharray="4.6 4.4"/>
<text x="289.8" y="480" class="lg" textLength="5.6" lengthAdjust="spacingAndGlyphs">S</text><text x="296" y="485.7" class="lg" style="font-size:8px" textLength="2.3" lengthAdjust="spacingAndGlyphs">t</text><text x="298.7" y="480" class="lg" textLength="18.6" lengthAdjust="spacingAndGlyphs">=0.5</text>
<path d="M272.2 497.1 H288" stroke="#000000" stroke-width="1.45" stroke-dasharray="5.2 1.1 1.1 1.1"/>
<text x="289.8" y="499" class="lg" textLength="5.6" lengthAdjust="spacingAndGlyphs">S</text><text x="296" y="504.7" class="lg" style="font-size:8px" textLength="2.3" lengthAdjust="spacingAndGlyphs">t</text><text x="298.7" y="499" class="lg" textLength="18.6" lengthAdjust="spacingAndGlyphs">=1.0</text>
<path d="M272.2 516.5 H288" stroke="#0000ff" stroke-width="1.45"/>
<text x="289.8" y="518" class="lg" textLength="5.6" lengthAdjust="spacingAndGlyphs">S</text><text x="296" y="523.7" class="lg" style="font-size:8px" textLength="2.3" lengthAdjust="spacingAndGlyphs">t</text><text x="298.7" y="518" class="lg" textLength="18.6" lengthAdjust="spacingAndGlyphs">=1.5</text>
<g transform="translate(126.7 535.5) rotate(-90)"><text x="0" y="0" class="yl" text-anchor="middle" style="font-size:15.5px"><tspan font-style="italic">&#950;</tspan><tspan dx="1">(</tspan><tspan font-style="italic" dx="0.3">&#951;</tspan><tspan dx="0.3">)</tspan></text><path d="M-10.6 -10.2 C-9.6 -12.2 -8.2 -10.2 -6.4 -11.6" fill="none" stroke="#000" stroke-width="0.9"/></g>
<text x="238.2" y="637.6" class="eta" text-anchor="middle">&#951;</text>
<text x="236" y="660.6" class="cap" text-anchor="middle">(g)</text>
</g>
<g>
<clipPath id="c7"><rect x="377.1" y="459.4" width="174.3" height="154.5"/></clipPath>
<path d="M377.6 613.4 v-2.0 M377.6 460.4 v2.0 M406.48 613.4 v-2.0 M406.48 460.4 v2.0 M435.37 613.4 v-2.0 M435.37 460.4 v2.0 M464.25 613.4 v-2.0 M464.25 460.4 v2.0 M493.13 613.4 v-2.0 M493.13 460.4 v2.0 M522.02 613.4 v-2.0 M522.02 460.4 v2.0 M550.9 613.4 v-2.0 M550.9 460.4 v2.0 M377.6 613.4 h2.0 M550.9 613.4 h-2.0 M377.6 587.9 h2.0 M550.9 587.9 h-2.0 M377.6 562.4 h2.0 M550.9 562.4 h-2.0 M377.6 536.9 h2.0 M550.9 536.9 h-2.0 M377.6 511.4 h2.0 M550.9 511.4 h-2.0 M377.6 485.9 h2.0 M550.9 485.9 h-2.0 M377.6 460.4 h2.0 M550.9 460.4 h-2.0" stroke="#5c5c5c" stroke-width="1.1" fill="none"/>
<text x="377.6" y="625" class="tk" text-anchor="middle">0</text>
<text x="406.48" y="625" class="tk" text-anchor="middle">1</text>
<text x="435.37" y="625" class="tk" text-anchor="middle">2</text>
<text x="464.25" y="625" class="tk" text-anchor="middle">3</text>
<text x="493.13" y="625" class="tk" text-anchor="middle">4</text>
<text x="522.02" y="625" class="tk" text-anchor="middle">5</text>
<text x="550.9" y="625" class="tk" text-anchor="middle">6</text>
<text x="375.1" y="616.9" class="tk" text-anchor="end">0</text>
<text x="375.1" y="591.4" class="tk" text-anchor="end">0.1</text>
<text x="375.1" y="565.9" class="tk" text-anchor="end">0.2</text>
<text x="375.1" y="540.4" class="tk" text-anchor="end">0.3</text>
<text x="375.1" y="514.9" class="tk" text-anchor="end">0.4</text>
<text x="375.1" y="489.4" class="tk" text-anchor="end">0.5</text>
<text x="375.1" y="463.9" class="tk" text-anchor="end">0.6</text>
<path d="M377.6 485.9 378.7 490.5 379.8 495.3 380.9 500.3 382 505.3 383 510.3 384.1 515.5 385.2 520.7 386.3 526 387.4 531.2 388.5 536.2 389.6 541.3 390.7 546.1 391.8 550.6 392.9 554.8 393.9 558.8 395 562.5 396.1 566 397.2 569.5 398.3 572.9 399.4 576.2 400.5 579.2 401.6 581.9 402.7 584.4 403.8 586.8 404.8 588.9 405.9 590.7 407 592.2 408.1 593.4 409.2 594.6 410.3 595.6 411.4 596.6 412.5 597.5 413.6 598.5 414.7 599.3 415.7 600.1 416.8 600.9 417.9 601.5 419 602.1 420.1 602.6 421.2 603.1 422.3 603.5 423.4 603.9 424.5 604.3 425.6 604.7 426.6 605 427.7 605.4 428.8 605.8 429.9 606.2 431 606.6 432.1 607 433.2 607.4 434.3 607.7 435.4 608 436.5 608.3 437.5 608.5 438.6 608.6 439.7 608.8 440.8 608.9 441.9 609 443 609.1 444.1 609.2 445.2 609.3 446.3 609.4 447.4 609.4 448.4 609.5 449.5 609.6 450.6 609.6 451.7 609.7 452.8 609.8 453.9 609.8 455 609.9 456.1 609.9 457.2 610 458.3 610 459.3 610.1 460.4 610.1 461.5 610.1 462.6 610.2 463.7 610.2 464.8 610.3 465.9 610.3 467 610.3 468.1 610.4 469.2 610.4 470.2 610.4 471.3 610.5 472.4 610.5 473.5 610.5 474.6 610.6 475.7 610.6 476.8 610.6 477.9 610.7 479 610.7 480.1 610.7 481.1 610.8 482.2 610.8 483.3 610.8 484.4 610.8 485.5 610.9 486.6 610.9 487.7 610.9 488.8 611 489.9 611 491 611 492 611.1 493.1 611.1 494.2 611.1 495.3 611.1 496.4 611.2 497.5 611.2 498.6 611.2 499.7 611.3 500.8 611.3 501.9 611.3 502.9 611.3 504 611.4 505.1 611.4 506.2 611.4 507.3 611.4 508.4 611.5 509.5 611.5 510.6 611.5 511.7 611.5 512.8 611.6 513.8 611.6 514.9 611.6 516 611.6 517.1 611.7 518.2 611.7 519.3 611.7 520.4 611.7 521.5 611.8 522.6 611.8 523.7 611.8 524.7 611.8 525.8 611.9 526.9 611.9 528 611.9 529.1 611.9 530.2 611.9 531.3 612 532.4 612 533.5 612 534.6 612 535.6 612 536.7 612.1 537.8 612.1 538.9 612.1 540 612.1 541.1 612.1 542.2 612.2 543.3 612.2 544.4 612.2 545.5 612.2 546.5 612.2 547.6 612.3 548.7 612.3 549.8 612.3 550.9 612.3" fill="none" stroke="#ff0000" stroke-width="1.45" stroke-dasharray="4.6 4.4" clip-path="url(#c7)"/>
<path d="M377.6 486.7 378.7 491.3 379.8 496.1 380.9 501.1 382 506.2 383 511.4 384.1 516.6 385.2 522 386.3 527.4 387.4 532.6 388.5 537.8 389.6 543.1 390.7 547.9 391.8 552.4 392.9 556.6 393.9 560.6 395 564.4 396.1 567.9 397.2 571.4 398.3 574.8 399.4 578 400.5 581 401.6 583.7 402.7 586.1 403.8 588.4 404.8 590.5 405.9 592.4 407 594.1 408.1 595.7 409.2 597.2 410.3 598.5 411.4 599.7 412.5 600.8 413.6 601.7 414.7 602.6 415.7 603.4 416.8 604.1 417.9 604.8 419 605.4 420.1 605.9 421.2 606.4 422.3 606.8 423.4 607.1 424.5 607.5 425.6 607.7 426.6 608 427.7 608.3 428.8 608.5 429.9 608.7 431 608.9 432.1 609 433.2 609.2 434.3 609.3 435.4 609.4 436.5 609.6 437.5 609.7 438.6 609.8 439.7 609.9 440.8 609.9 441.9 610 443 610.1 444.1 610.2 445.2 610.2 446.3 610.3 447.4 610.4 448.4 610.4 449.5 610.5 450.6 610.5 451.7 610.6 452.8 610.6 453.9 610.6 455 610.7 456.1 610.7 457.2 610.8 458.3 610.8 459.3 610.8 460.4 610.9 461.5 610.9 462.6 610.9 463.7 611 464.8 611 465.9 611 467 611.1 468.1 611.1 469.2 611.1 470.2 611.1 471.3 611.2 472.4 611.2 473.5 611.2 474.6 611.2 475.7 611.3 476.8 611.3 477.9 611.3 479 611.3 480.1 611.4 481.1 611.4 482.2 611.4 483.3 611.4 484.4 611.4 485.5 611.5 486.6 611.5 487.7 611.5 488.8 611.5 489.9 611.6 491 611.6 492 611.6 493.1 611.6 494.2 611.6 495.3 611.7 496.4 611.7 497.5 611.7 498.6 611.7 499.7 611.8 500.8 611.8 501.9 611.8 502.9 611.8 504 611.8 505.1 611.9 506.2 611.9 507.3 611.9 508.4 611.9 509.5 611.9 510.6 611.9 511.7 612 512.8 612 513.8 612 514.9 612 516 612 517.1 612.1 518.2 612.1 519.3 612.1 520.4 612.1 521.5 612.1 522.6 612.1 523.7 612.2 524.7 612.2 525.8 612.2 526.9 612.2 528 612.2 529.1 612.2 530.2 612.2 531.3 612.3 532.4 612.3 533.5 612.3 534.6 612.3 535.6 612.3 536.7 612.3 537.8 612.4 538.9 612.4 540 612.4 541.1 612.4 542.2 612.4 543.3 612.4 544.4 612.4 545.5 612.4 546.5 612.5 547.6 612.5 548.7 612.5 549.8 612.5 550.9 612.5" fill="none" stroke="#000000" stroke-width="1.45" stroke-dasharray="5.2 1.1 1.1 1.1" clip-path="url(#c7)"/>
<path d="M377.6 487.4 378.7 492 379.8 496.7 380.9 501.7 382 506.8 383 511.9 384.1 517.1 385.2 522.4 386.3 527.8 387.4 533.1 388.5 538.4 389.6 543.8 390.7 548.7 391.8 553.2 392.9 557.4 393.9 561.4 395 565.1 396.1 568.7 397.2 572.1 398.3 575.5 399.4 578.7 400.5 581.7 401.6 584.4 402.7 586.9 403.8 589.2 404.8 591.3 405.9 593.2 407 594.9 408.1 596.5 409.2 597.9 410.3 599.2 411.4 600.4 412.5 601.5 413.6 602.4 414.7 603.3 415.7 604.1 416.8 604.8 417.9 605.5 419 606.1 420.1 606.6 421.2 607.1 422.3 607.4 423.4 607.7 424.5 608 425.6 608.3 426.6 608.5 427.7 608.7 428.8 608.9 429.9 609.1 431 609.3 432.1 609.4 433.2 609.6 434.3 609.7 435.4 609.8 436.5 609.9 437.5 610 438.6 610.1 439.7 610.2 440.8 610.3 441.9 610.4 443 610.5 444.1 610.6 445.2 610.6 446.3 610.7 447.4 610.8 448.4 610.8 449.5 610.9 450.6 610.9 451.7 610.9 452.8 611 453.9 611 455 611 456.1 611.1 457.2 611.1 458.3 611.1 459.3 611.2 460.4 611.2 461.5 611.2 462.6 611.3 463.7 611.3 464.8 611.3 465.9 611.3 467 611.4 468.1 611.4 469.2 611.4 470.2 611.4 471.3 611.5 472.4 611.5 473.5 611.5 474.6 611.5 475.7 611.5 476.8 611.6 477.9 611.6 479 611.6 480.1 611.6 481.1 611.6 482.2 611.7 483.3 611.7 484.4 611.7 485.5 611.7 486.6 611.7 487.7 611.7 488.8 611.8 489.9 611.8 491 611.8 492 611.8 493.1 611.8 494.2 611.9 495.3 611.9 496.4 611.9 497.5 611.9 498.6 611.9 499.7 612 500.8 612 501.9 612 502.9 612 504 612 505.1 612 506.2 612.1 507.3 612.1 508.4 612.1 509.5 612.1 510.6 612.1 511.7 612.1 512.8 612.2 513.8 612.2 514.9 612.2 516 612.2 517.1 612.2 518.2 612.2 519.3 612.3 520.4 612.3 521.5 612.3 522.6 612.3 523.7 612.3 524.7 612.3 525.8 612.3 526.9 612.4 528 612.4 529.1 612.4 530.2 612.4 531.3 612.4 532.4 612.4 533.5 612.4 534.6 612.5 535.6 612.5 536.7 612.5 537.8 612.5 538.9 612.5 540 612.5 541.1 612.5 542.2 612.5 543.3 612.6 544.4 612.6 545.5 612.6 546.5 612.6 547.6 612.6 548.7 612.6 549.8 612.6 550.9 612.6" fill="none" stroke="#0000ff" stroke-width="1.45" clip-path="url(#c7)"/>
<path d="M377.6 487.4 378.7 492 379.8 496.7 380.9 501.7 382 506.8 383 511.9 384.1 517.1 385.2 522.4 386.3 527.8 387.4 533.1 388.5 538.4 389.6 543.8 390.7 548.7 391.8 553.2 392.9 557.4 393.9 561.4 395 565.1 396.1 568.7 397.2 572.1 398.3 575.5 399.4 578.7 400.5 581.7 401.6 584.4 402.7 586.9 403.8 589.2 404.8 591.3 405.9 593.2 407 594.9 408.1 596.5 409.2 597.9 410.3 599.2 411.4 600.4 412.5 601.5 413.6 602.4 414.7 603.3 415.7 604.1 416.8 604.8 417.9 605.5 419 606.1 420.1 606.6 421.2 607.1 422.3 607.4 423.4 607.7 424.5 608 425.6 608.3 426.6 608.5 427.7 608.7 428.8 608.9 429.9 609.1 431 609.3 432.1 609.4 433.2 609.6 434.3 609.7 435.4 609.8 436.5 609.9 437.5 610 438.6 610.1 439.7 610.2 440.8 610.3 441.9 610.4 443 610.5 444.1 610.6 445.2 610.6 446.3 610.7 447.4 610.8 448.4 610.8 449.5 610.9 450.6 610.9 451.7 610.9 452.8 611 453.9 611 455 611 456.1 611.1 457.2 611.1 458.3 611.1 459.3 611.2 460.4 611.2 461.5 611.2 462.6 611.3 463.7 611.3 464.8 611.3 465.9 611.3 467 611.4 468.1 611.4 469.2 611.4 470.2 611.4 471.3 611.5 472.4 611.5 473.5 611.5 474.6 611.5 475.7 611.5 476.8 611.6 477.9 611.6 479 611.6 480.1 611.6 481.1 611.6 482.2 611.7 483.3 611.7 484.4 611.7 485.5 611.7 486.6 611.7 487.7 611.7 488.8 611.8 489.9 611.8 491 611.8 492 611.8 493.1 611.8 494.2 611.9 495.3 611.9 496.4 611.9 497.5 611.9 498.6 611.9 499.7 612 500.8 612 501.9 612 502.9 612 504 612 505.1 612 506.2 612.1 507.3 612.1 508.4 612.1 509.5 612.1 510.6 612.1 511.7 612.1 512.8 612.2 513.8 612.2 514.9 612.2 516 612.2 517.1 612.2 518.2 612.2 519.3 612.3 520.4 612.3 521.5 612.3 522.6 612.3 523.7 612.3 524.7 612.3 525.8 612.3 526.9 612.4 528 612.4 529.1 612.4 530.2 612.4 531.3 612.4 532.4 612.4 533.5 612.4 534.6 612.5 535.6 612.5 536.7 612.5 537.8 612.5 538.9 612.5 540 612.5 541.1 612.5 542.2 612.5 543.3 612.6 544.4 612.6 545.5 612.6 546.5 612.6 547.6 612.6 548.7 612.6 549.8 612.6 550.9 612.6" fill="none" stroke="#ff00ff" stroke-width="1.45" stroke-dasharray="5.2 1.1 1.1 1.1" clip-path="url(#c7)"/>
<rect x="456.2" y="526.6" width="51.2" height="52.5" fill="#fff" stroke="#5c5c5c" stroke-width="1.1"/>
<clipPath id="ic7"><rect x="456.2" y="526.6" width="51.2" height="52.5"/></clipPath>
<path d="M456.4 528.8 Q472 552 489.7 577.5" fill="none" stroke="#ff0000" stroke-width="1.45" stroke-dasharray="4.6 4.4" clip-path="url(#ic7)"/>
<path d="M456.4 534.7 Q470 555 485.8 579.1" fill="none" stroke="#000000" stroke-width="1.45" stroke-dasharray="5.2 1.1 1.1 1.1" clip-path="url(#ic7)"/>
<path d="M456.4 537.2 Q469 557 484.3 579.1" fill="none" stroke="#0000ff" stroke-width="1.45" clip-path="url(#ic7)"/>
<path d="M456.4 539.6 Q468 559 482.4 579.1" fill="none" stroke="#ff00ff" stroke-width="1.45" stroke-dasharray="5.2 1.1 1.1 1.1" clip-path="url(#ic7)"/>
<path d="M410.3 575.4 L442.42 558.5" stroke="#000" stroke-width="1.2"/><path d="M446.4 556.4 L442.74 561.26 L440.32 556.66 Z" fill="#000"/>
<rect x="377.6" y="460.4" width="173.3" height="153" fill="none" stroke="#5c5c5c" stroke-width="1.1"/>
<rect x="500.3" y="465.4" width="46.5" height="56.8" fill="#fff" stroke="#5c5c5c" stroke-width="1.1"/>
<path d="M501.9 473.3 H517.7" stroke="#ff0000" stroke-width="1.45" stroke-dasharray="4.6 4.4"/>
<text x="519.5" y="477" class="lg" textLength="16.6" lengthAdjust="spacingAndGlyphs">N=1</text>
<path d="M501.9 486.7 H517.7" stroke="#000000" stroke-width="1.45" stroke-dasharray="5.2 1.1 1.1 1.1"/>
<text x="519.5" y="491" class="lg" textLength="25.1" lengthAdjust="spacingAndGlyphs">N=1.5</text>
<path d="M501.9 500.8 H517.7" stroke="#0000ff" stroke-width="1.45"/>
<text x="519.5" y="504.8" class="lg" textLength="16.6" lengthAdjust="spacingAndGlyphs">N=2</text>
<path d="M501.9 514.8 H517.7" stroke="#ff00ff" stroke-width="1.45" stroke-dasharray="5.2 1.1 1.1 1.1"/>
<text x="519.5" y="518.7" class="lg" textLength="16.6" lengthAdjust="spacingAndGlyphs">N=3</text>
<g transform="translate(354.5 537.35) rotate(-90)"><text x="0" y="0" class="yl" text-anchor="middle" style="font-size:15.5px"><tspan font-style="italic">&#950;</tspan><tspan dx="1">(</tspan><tspan font-style="italic" dx="0.3">&#951;</tspan><tspan dx="0.3">)</tspan></text><path d="M-10.6 -10.2 C-9.6 -12.2 -8.2 -10.2 -6.4 -11.6" fill="none" stroke="#000" stroke-width="0.9"/></g>
<text x="464.7" y="636.1" class="eta" text-anchor="middle">&#951;</text>
<text x="465.2" y="660.1" class="cap" text-anchor="middle">(h)</text>
</g>
</svg></body></html>
